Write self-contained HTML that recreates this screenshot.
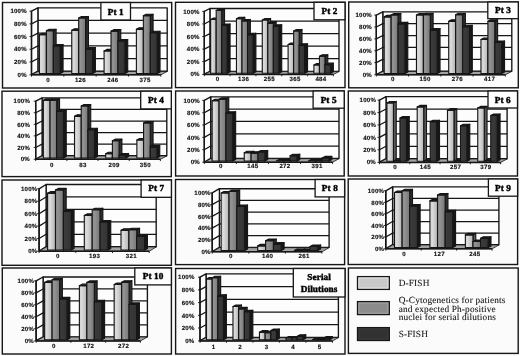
<!DOCTYPE html>
<html><head><meta charset="utf-8"><style>
html,body{margin:0;padding:0;background:#fbfbfb;}
svg{display:block;text-rendering:geometricPrecision;}
.vl{font-family:"Liberation Sans",sans-serif;font-size:6.1px;font-weight:bold;letter-spacing:0.2px;text-anchor:end;fill:#111;stroke:#111;stroke-width:0.15px;}
.cl{font-family:"Liberation Sans",sans-serif;font-size:6.1px;font-weight:bold;letter-spacing:0.35px;text-anchor:middle;fill:#111;stroke:#111;stroke-width:0.15px;}
.tt{font-family:"Liberation Serif",serif;font-size:9.2px;letter-spacing:0.1px;font-weight:bold;text-anchor:middle;fill:#000;stroke:#000;stroke-width:0.45px;}
.lg{font-family:"Liberation Serif",serif;font-size:9.3px;letter-spacing:0.15px;fill:#111;stroke:#111;stroke-width:0.08px;}
</style></head>
<body><svg width="520" height="356" viewBox="0 0 520 356">
<defs>
<linearGradient id="gL" x1="0" y1="0" x2="1" y2="0"><stop offset="0" stop-color="#cfcfcf"/><stop offset="0.3" stop-color="#dcdcdc"/><stop offset="1" stop-color="#b4b4b4"/></linearGradient>
<linearGradient id="gM" x1="0" y1="0" x2="1" y2="0"><stop offset="0" stop-color="#8a8a8a"/><stop offset="0.3" stop-color="#939393"/><stop offset="1" stop-color="#777777"/></linearGradient>
<linearGradient id="gD" x1="0" y1="0" x2="1" y2="0"><stop offset="0" stop-color="#3c3c3c"/><stop offset="1" stop-color="#333333"/></linearGradient>
<filter id="bl" x="0" y="0" width="100%" height="100%"><feGaussianBlur stdDeviation="0.45"/></filter>
</defs>
<g filter="url(#bl)">
<rect width="520" height="356" fill="#fbfbfb"/>
<rect x="2.5" y="2.5" width="169.2" height="85.5" fill="#fbfbfb" stroke="#141414" stroke-width="1.4"/>
<polygon points="37.9,7.8 167.2,7.8 167.2,71.2 37.9,71.2" fill="#fdfdfd" stroke="#141414" stroke-width="1.35" stroke-linejoin="round"/>
<polygon points="31.5,11.2 37.9,7.8 37.9,71.2 31.5,74.6" fill="#fdfdfd" stroke="#141414" stroke-width="1.35" stroke-linejoin="round"/>
<line x1="31.5" y1="61.92" x2="37.9" y2="58.52" stroke="#141414" stroke-width="1.25"/>
<line x1="37.9" y1="58.52" x2="167.2" y2="58.52" stroke="#141414" stroke-width="1.25"/>
<line x1="31.5" y1="49.24" x2="37.9" y2="45.84" stroke="#141414" stroke-width="1.25"/>
<line x1="37.9" y1="45.84" x2="167.2" y2="45.84" stroke="#141414" stroke-width="1.25"/>
<line x1="31.5" y1="36.56" x2="37.9" y2="33.16" stroke="#141414" stroke-width="1.25"/>
<line x1="37.9" y1="33.16" x2="167.2" y2="33.16" stroke="#141414" stroke-width="1.25"/>
<line x1="31.5" y1="23.88" x2="37.9" y2="20.48" stroke="#141414" stroke-width="1.25"/>
<line x1="37.9" y1="20.48" x2="167.2" y2="20.48" stroke="#141414" stroke-width="1.25"/>
<polygon points="31.5,74.85 160.8,74.85 167.2,71.45 37.9,71.45" fill="#a2a2a2" stroke="#141414" stroke-width="0.8" stroke-linejoin="round"/>
<line x1="31.5" y1="74.85" x2="160.8" y2="74.85" stroke="#141414" stroke-width="1.5"/>
<line x1="29.5" y1="74.85" x2="31.5" y2="74.85" stroke="#141414" stroke-width="0.9"/>
<text x="26.8" y="76.8" class="vl">0%</text>
<line x1="29.5" y1="61.92" x2="31.5" y2="61.92" stroke="#141414" stroke-width="0.9"/>
<text x="26.8" y="64.12" class="vl">20%</text>
<line x1="29.5" y1="49.24" x2="31.5" y2="49.24" stroke="#141414" stroke-width="0.9"/>
<text x="26.8" y="51.44" class="vl">40%</text>
<line x1="29.5" y1="36.56" x2="31.5" y2="36.56" stroke="#141414" stroke-width="0.9"/>
<text x="26.8" y="38.76" class="vl">60%</text>
<line x1="29.5" y1="23.88" x2="31.5" y2="23.88" stroke="#141414" stroke-width="0.9"/>
<text x="26.8" y="26.08" class="vl">80%</text>
<line x1="29.5" y1="11.2" x2="31.5" y2="11.2" stroke="#141414" stroke-width="0.9"/>
<text x="26.8" y="13.4" class="vl">100%</text>
<line x1="31.5" y1="11.2" x2="31.5" y2="74.85" stroke="#141414" stroke-width="1.35"/>
<line x1="31.5" y1="74.85" x2="31.5" y2="76.65" stroke="#141414" stroke-width="0.9"/>
<line x1="63.83" y1="74.85" x2="63.83" y2="76.65" stroke="#141414" stroke-width="0.9"/>
<line x1="96.15" y1="74.85" x2="96.15" y2="76.65" stroke="#141414" stroke-width="0.9"/>
<line x1="128.48" y1="74.85" x2="128.48" y2="76.65" stroke="#141414" stroke-width="0.9"/>
<line x1="160.8" y1="74.85" x2="160.8" y2="76.65" stroke="#141414" stroke-width="0.9"/>
<text x="48.16" y="81.6" class="cl">0</text>
<text x="80.49" y="81.6" class="cl">126</text>
<text x="112.81" y="81.6" class="cl">246</text>
<text x="145.14" y="81.6" class="cl">375</text>
<polygon points="46.37,34.8 49.17,33.3 49.17,72.1 46.37,73.6" fill="#5a5a5a" stroke="#141414" stroke-width="1.1" stroke-linejoin="round"/>
<polygon points="39.42,34.8 46.37,34.8 46.37,73.6 39.42,73.6" fill="url(#gL)" stroke="#141414" stroke-width="1.1" stroke-linejoin="round"/>
<polygon points="39.42,34.8 46.37,34.8 49.17,33.3 42.22,33.3" fill="#222222" stroke="#141414" stroke-width="1.1" stroke-linejoin="round"/>
<polygon points="53.32,30.81 56.12,29.31 56.12,72.1 53.32,73.6" fill="#2e2e2e" stroke="#141414" stroke-width="1.1" stroke-linejoin="round"/>
<polygon points="46.37,30.81 53.32,30.81 53.32,73.6 46.37,73.6" fill="url(#gM)" stroke="#141414" stroke-width="1.1" stroke-linejoin="round"/>
<polygon points="46.37,30.81 53.32,30.81 56.12,29.31 49.17,29.31" fill="#1a1a1a" stroke="#141414" stroke-width="1.1" stroke-linejoin="round"/>
<polygon points="60.27,46.02 63.07,44.52 63.07,72.1 60.27,73.6" fill="#141414" stroke="#141414" stroke-width="1.1" stroke-linejoin="round"/>
<polygon points="53.32,46.02 60.27,46.02 60.27,73.6 53.32,73.6" fill="url(#gD)" stroke="#141414" stroke-width="1.1" stroke-linejoin="round"/>
<polygon points="53.32,46.02 60.27,46.02 63.07,44.52 56.12,44.52" fill="#111111" stroke="#141414" stroke-width="1.1" stroke-linejoin="round"/>
<polygon points="78.69,30.3 81.49,28.8 81.49,72.1 78.69,73.6" fill="#5a5a5a" stroke="#141414" stroke-width="1.1" stroke-linejoin="round"/>
<polygon points="71.74,30.3 78.69,30.3 78.69,73.6 71.74,73.6" fill="url(#gL)" stroke="#141414" stroke-width="1.1" stroke-linejoin="round"/>
<polygon points="71.74,30.3 78.69,30.3 81.49,28.8 74.54,28.8" fill="#222222" stroke="#141414" stroke-width="1.1" stroke-linejoin="round"/>
<polygon points="85.64,17.93 88.44,16.43 88.44,72.1 85.64,73.6" fill="#2e2e2e" stroke="#141414" stroke-width="1.1" stroke-linejoin="round"/>
<polygon points="78.69,17.93 85.64,17.93 85.64,73.6 78.69,73.6" fill="url(#gM)" stroke="#141414" stroke-width="1.1" stroke-linejoin="round"/>
<polygon points="78.69,17.93 85.64,17.93 88.44,16.43 81.49,16.43" fill="#1a1a1a" stroke="#141414" stroke-width="1.1" stroke-linejoin="round"/>
<polygon points="92.59,49.13 95.39,47.63 95.39,72.1 92.59,73.6" fill="#141414" stroke="#141414" stroke-width="1.1" stroke-linejoin="round"/>
<polygon points="85.64,49.13 92.59,49.13 92.59,73.6 85.64,73.6" fill="url(#gD)" stroke="#141414" stroke-width="1.1" stroke-linejoin="round"/>
<polygon points="85.64,49.13 92.59,49.13 95.39,47.63 88.44,47.63" fill="#111111" stroke="#141414" stroke-width="1.1" stroke-linejoin="round"/>
<polygon points="111.02,50.9 113.82,49.4 113.82,72.1 111.02,73.6" fill="#5a5a5a" stroke="#141414" stroke-width="1.1" stroke-linejoin="round"/>
<polygon points="104.07,50.9 111.02,50.9 111.02,73.6 104.07,73.6" fill="url(#gL)" stroke="#141414" stroke-width="1.1" stroke-linejoin="round"/>
<polygon points="104.07,50.9 111.02,50.9 113.82,49.4 106.87,49.4" fill="#222222" stroke="#141414" stroke-width="1.1" stroke-linejoin="round"/>
<polygon points="117.97,31.12 120.77,29.62 120.77,72.1 117.97,73.6" fill="#2e2e2e" stroke="#141414" stroke-width="1.1" stroke-linejoin="round"/>
<polygon points="111.02,31.12 117.97,31.12 117.97,73.6 111.02,73.6" fill="url(#gM)" stroke="#141414" stroke-width="1.1" stroke-linejoin="round"/>
<polygon points="111.02,31.12 117.97,31.12 120.77,29.62 113.82,29.62" fill="#1a1a1a" stroke="#141414" stroke-width="1.1" stroke-linejoin="round"/>
<polygon points="124.92,41.01 127.72,39.51 127.72,72.1 124.92,73.6" fill="#141414" stroke="#141414" stroke-width="1.1" stroke-linejoin="round"/>
<polygon points="117.97,41.01 124.92,41.01 124.92,73.6 117.97,73.6" fill="url(#gD)" stroke="#141414" stroke-width="1.1" stroke-linejoin="round"/>
<polygon points="117.97,41.01 124.92,41.01 127.72,39.51 120.77,39.51" fill="#111111" stroke="#141414" stroke-width="1.1" stroke-linejoin="round"/>
<polygon points="143.34,29.35 146.14,27.85 146.14,72.1 143.34,73.6" fill="#5a5a5a" stroke="#141414" stroke-width="1.1" stroke-linejoin="round"/>
<polygon points="136.39,29.35 143.34,29.35 143.34,73.6 136.39,73.6" fill="url(#gL)" stroke="#141414" stroke-width="1.1" stroke-linejoin="round"/>
<polygon points="136.39,29.35 143.34,29.35 146.14,27.85 139.19,27.85" fill="#222222" stroke="#141414" stroke-width="1.1" stroke-linejoin="round"/>
<polygon points="150.29,15.72 153.09,14.22 153.09,72.1 150.29,73.6" fill="#2e2e2e" stroke="#141414" stroke-width="1.1" stroke-linejoin="round"/>
<polygon points="143.34,15.72 150.29,15.72 150.29,73.6 143.34,73.6" fill="url(#gM)" stroke="#141414" stroke-width="1.1" stroke-linejoin="round"/>
<polygon points="143.34,15.72 150.29,15.72 153.09,14.22 146.14,14.22" fill="#1a1a1a" stroke="#141414" stroke-width="1.1" stroke-linejoin="round"/>
<polygon points="157.24,32.71 160.04,31.21 160.04,72.1 157.24,73.6" fill="#141414" stroke="#141414" stroke-width="1.1" stroke-linejoin="round"/>
<polygon points="150.29,32.71 157.24,32.71 157.24,73.6 150.29,73.6" fill="url(#gD)" stroke="#141414" stroke-width="1.1" stroke-linejoin="round"/>
<polygon points="150.29,32.71 157.24,32.71 160.04,31.21 153.09,31.21" fill="#111111" stroke="#141414" stroke-width="1.1" stroke-linejoin="round"/>
<rect x="100.9" y="2.5" width="29.6" height="17.5" fill="#fdfdfd" stroke="#141414" stroke-width="1.3"/>
<text x="115.7" y="14.65" class="tt">Pt 1</text>
<rect x="175.5" y="2.3" width="169.5" height="85.3" fill="#fbfbfb" stroke="#141414" stroke-width="1.4"/>
<polygon points="209.9,8.5 339,8.5 339,71.3 209.9,71.3" fill="#fdfdfd" stroke="#141414" stroke-width="1.35" stroke-linejoin="round"/>
<polygon points="204.3,11.4 209.9,8.5 209.9,71.3 204.3,74.2" fill="#fdfdfd" stroke="#141414" stroke-width="1.35" stroke-linejoin="round"/>
<line x1="204.3" y1="61.64" x2="209.9" y2="58.74" stroke="#141414" stroke-width="1.25"/>
<line x1="209.9" y1="58.74" x2="339" y2="58.74" stroke="#141414" stroke-width="1.25"/>
<line x1="204.3" y1="49.08" x2="209.9" y2="46.18" stroke="#141414" stroke-width="1.25"/>
<line x1="209.9" y1="46.18" x2="339" y2="46.18" stroke="#141414" stroke-width="1.25"/>
<line x1="204.3" y1="36.52" x2="209.9" y2="33.62" stroke="#141414" stroke-width="1.25"/>
<line x1="209.9" y1="33.62" x2="339" y2="33.62" stroke="#141414" stroke-width="1.25"/>
<line x1="204.3" y1="23.96" x2="209.9" y2="21.06" stroke="#141414" stroke-width="1.25"/>
<line x1="209.9" y1="21.06" x2="339" y2="21.06" stroke="#141414" stroke-width="1.25"/>
<polygon points="204.3,74.45 333.4,74.45 339,71.55 209.9,71.55" fill="#a2a2a2" stroke="#141414" stroke-width="0.8" stroke-linejoin="round"/>
<line x1="204.3" y1="74.45" x2="333.4" y2="74.45" stroke="#141414" stroke-width="1.5"/>
<line x1="202.3" y1="74.45" x2="204.3" y2="74.45" stroke="#141414" stroke-width="0.9"/>
<text x="199.6" y="76.4" class="vl">0%</text>
<line x1="202.3" y1="61.64" x2="204.3" y2="61.64" stroke="#141414" stroke-width="0.9"/>
<text x="199.6" y="63.84" class="vl">20%</text>
<line x1="202.3" y1="49.08" x2="204.3" y2="49.08" stroke="#141414" stroke-width="0.9"/>
<text x="199.6" y="51.28" class="vl">40%</text>
<line x1="202.3" y1="36.52" x2="204.3" y2="36.52" stroke="#141414" stroke-width="0.9"/>
<text x="199.6" y="38.72" class="vl">60%</text>
<line x1="202.3" y1="23.96" x2="204.3" y2="23.96" stroke="#141414" stroke-width="0.9"/>
<text x="199.6" y="26.16" class="vl">80%</text>
<line x1="202.3" y1="11.4" x2="204.3" y2="11.4" stroke="#141414" stroke-width="0.9"/>
<text x="199.6" y="13.6" class="vl">100%</text>
<line x1="204.3" y1="11.4" x2="204.3" y2="74.45" stroke="#141414" stroke-width="1.35"/>
<line x1="204.3" y1="74.45" x2="204.3" y2="76.25" stroke="#141414" stroke-width="0.9"/>
<line x1="230.12" y1="74.45" x2="230.12" y2="76.25" stroke="#141414" stroke-width="0.9"/>
<line x1="255.94" y1="74.45" x2="255.94" y2="76.25" stroke="#141414" stroke-width="0.9"/>
<line x1="281.76" y1="74.45" x2="281.76" y2="76.25" stroke="#141414" stroke-width="0.9"/>
<line x1="307.58" y1="74.45" x2="307.58" y2="76.25" stroke="#141414" stroke-width="0.9"/>
<line x1="333.4" y1="74.45" x2="333.4" y2="76.25" stroke="#141414" stroke-width="0.9"/>
<text x="217.71" y="81.2" class="cl">0</text>
<text x="243.53" y="81.2" class="cl">136</text>
<text x="269.35" y="81.2" class="cl">255</text>
<text x="295.17" y="81.2" class="cl">365</text>
<text x="320.99" y="81.2" class="cl">484</text>
<polygon points="216.18,19.57 218.98,18.07 218.98,71.7 216.18,73.2" fill="#5a5a5a" stroke="#141414" stroke-width="1.1" stroke-linejoin="round"/>
<polygon points="210.63,19.57 216.18,19.57 216.18,73.2 210.63,73.2" fill="url(#gL)" stroke="#141414" stroke-width="1.1" stroke-linejoin="round"/>
<polygon points="210.63,19.57 216.18,19.57 218.98,18.07 213.43,18.07" fill="#222222" stroke="#141414" stroke-width="1.1" stroke-linejoin="round"/>
<polygon points="221.73,10.53 224.53,9.03 224.53,71.7 221.73,73.2" fill="#2e2e2e" stroke="#141414" stroke-width="1.1" stroke-linejoin="round"/>
<polygon points="216.18,10.53 221.73,10.53 221.73,73.2 216.18,73.2" fill="url(#gM)" stroke="#141414" stroke-width="1.1" stroke-linejoin="round"/>
<polygon points="216.18,10.53 221.73,10.53 224.53,9.03 218.98,9.03" fill="#1a1a1a" stroke="#141414" stroke-width="1.1" stroke-linejoin="round"/>
<polygon points="227.28,25.53 230.08,24.03 230.08,71.7 227.28,73.2" fill="#141414" stroke="#141414" stroke-width="1.1" stroke-linejoin="round"/>
<polygon points="221.73,25.53 227.28,25.53 227.28,73.2 221.73,73.2" fill="url(#gD)" stroke="#141414" stroke-width="1.1" stroke-linejoin="round"/>
<polygon points="221.73,25.53 227.28,25.53 230.08,24.03 224.53,24.03" fill="#111111" stroke="#141414" stroke-width="1.1" stroke-linejoin="round"/>
<polygon points="242,18.75 244.8,17.25 244.8,71.7 242,73.2" fill="#5a5a5a" stroke="#141414" stroke-width="1.1" stroke-linejoin="round"/>
<polygon points="236.45,18.75 242,18.75 242,73.2 236.45,73.2" fill="url(#gL)" stroke="#141414" stroke-width="1.1" stroke-linejoin="round"/>
<polygon points="236.45,18.75 242,18.75 244.8,17.25 239.25,17.25" fill="#222222" stroke="#141414" stroke-width="1.1" stroke-linejoin="round"/>
<polygon points="247.55,20.95 250.35,19.45 250.35,71.7 247.55,73.2" fill="#2e2e2e" stroke="#141414" stroke-width="1.1" stroke-linejoin="round"/>
<polygon points="242,20.95 247.55,20.95 247.55,73.2 242,73.2" fill="url(#gM)" stroke="#141414" stroke-width="1.1" stroke-linejoin="round"/>
<polygon points="242,20.95 247.55,20.95 250.35,19.45 244.8,19.45" fill="#1a1a1a" stroke="#141414" stroke-width="1.1" stroke-linejoin="round"/>
<polygon points="253.1,34.7 255.9,33.2 255.9,71.7 253.1,73.2" fill="#141414" stroke="#141414" stroke-width="1.1" stroke-linejoin="round"/>
<polygon points="247.55,34.7 253.1,34.7 253.1,73.2 247.55,73.2" fill="url(#gD)" stroke="#141414" stroke-width="1.1" stroke-linejoin="round"/>
<polygon points="247.55,34.7 253.1,34.7 255.9,33.2 250.35,33.2" fill="#111111" stroke="#141414" stroke-width="1.1" stroke-linejoin="round"/>
<polygon points="267.82,20.07 270.62,18.57 270.62,71.7 267.82,73.2" fill="#5a5a5a" stroke="#141414" stroke-width="1.1" stroke-linejoin="round"/>
<polygon points="262.27,20.07 267.82,20.07 267.82,73.2 262.27,73.2" fill="url(#gL)" stroke="#141414" stroke-width="1.1" stroke-linejoin="round"/>
<polygon points="262.27,20.07 267.82,20.07 270.62,18.57 265.07,18.57" fill="#222222" stroke="#141414" stroke-width="1.1" stroke-linejoin="round"/>
<polygon points="273.37,23.15 276.17,21.65 276.17,71.7 273.37,73.2" fill="#2e2e2e" stroke="#141414" stroke-width="1.1" stroke-linejoin="round"/>
<polygon points="267.82,23.15 273.37,23.15 273.37,73.2 267.82,73.2" fill="url(#gM)" stroke="#141414" stroke-width="1.1" stroke-linejoin="round"/>
<polygon points="267.82,23.15 273.37,23.15 276.17,21.65 270.62,21.65" fill="#1a1a1a" stroke="#141414" stroke-width="1.1" stroke-linejoin="round"/>
<polygon points="278.92,26.35 281.72,24.85 281.72,71.7 278.92,73.2" fill="#141414" stroke="#141414" stroke-width="1.1" stroke-linejoin="round"/>
<polygon points="273.37,26.35 278.92,26.35 278.92,73.2 273.37,73.2" fill="url(#gD)" stroke="#141414" stroke-width="1.1" stroke-linejoin="round"/>
<polygon points="273.37,26.35 278.92,26.35 281.72,24.85 276.17,24.85" fill="#111111" stroke="#141414" stroke-width="1.1" stroke-linejoin="round"/>
<polygon points="293.64,44.44 296.44,42.94 296.44,71.7 293.64,73.2" fill="#5a5a5a" stroke="#141414" stroke-width="1.1" stroke-linejoin="round"/>
<polygon points="288.09,44.44 293.64,44.44 293.64,73.2 288.09,73.2" fill="url(#gL)" stroke="#141414" stroke-width="1.1" stroke-linejoin="round"/>
<polygon points="288.09,44.44 293.64,44.44 296.44,42.94 290.89,42.94" fill="#222222" stroke="#141414" stroke-width="1.1" stroke-linejoin="round"/>
<polygon points="299.19,30.94 301.99,29.44 301.99,71.7 299.19,73.2" fill="#2e2e2e" stroke="#141414" stroke-width="1.1" stroke-linejoin="round"/>
<polygon points="293.64,30.94 299.19,30.94 299.19,73.2 293.64,73.2" fill="url(#gM)" stroke="#141414" stroke-width="1.1" stroke-linejoin="round"/>
<polygon points="293.64,30.94 299.19,30.94 301.99,29.44 296.44,29.44" fill="#1a1a1a" stroke="#141414" stroke-width="1.1" stroke-linejoin="round"/>
<polygon points="304.74,45.32 307.54,43.82 307.54,71.7 304.74,73.2" fill="#141414" stroke="#141414" stroke-width="1.1" stroke-linejoin="round"/>
<polygon points="299.19,45.32 304.74,45.32 304.74,73.2 299.19,73.2" fill="url(#gD)" stroke="#141414" stroke-width="1.1" stroke-linejoin="round"/>
<polygon points="299.19,45.32 304.74,45.32 307.54,43.82 301.99,43.82" fill="#111111" stroke="#141414" stroke-width="1.1" stroke-linejoin="round"/>
<polygon points="319.46,65.04 322.26,63.54 322.26,71.7 319.46,73.2" fill="#5a5a5a" stroke="#141414" stroke-width="1.1" stroke-linejoin="round"/>
<polygon points="313.91,65.04 319.46,65.04 319.46,73.2 313.91,73.2" fill="url(#gL)" stroke="#141414" stroke-width="1.1" stroke-linejoin="round"/>
<polygon points="313.91,65.04 319.46,65.04 322.26,63.54 316.71,63.54" fill="#222222" stroke="#141414" stroke-width="1.1" stroke-linejoin="round"/>
<polygon points="325.01,56.31 327.81,54.81 327.81,71.7 325.01,73.2" fill="#2e2e2e" stroke="#141414" stroke-width="1.1" stroke-linejoin="round"/>
<polygon points="319.46,56.31 325.01,56.31 325.01,73.2 319.46,73.2" fill="url(#gM)" stroke="#141414" stroke-width="1.1" stroke-linejoin="round"/>
<polygon points="319.46,56.31 325.01,56.31 327.81,54.81 322.26,54.81" fill="#1a1a1a" stroke="#141414" stroke-width="1.1" stroke-linejoin="round"/>
<polygon points="330.56,64.66 333.36,63.16 333.36,71.7 330.56,73.2" fill="#141414" stroke="#141414" stroke-width="1.1" stroke-linejoin="round"/>
<polygon points="325.01,64.66 330.56,64.66 330.56,73.2 325.01,73.2" fill="url(#gD)" stroke="#141414" stroke-width="1.1" stroke-linejoin="round"/>
<polygon points="325.01,64.66 330.56,64.66 333.36,63.16 327.81,63.16" fill="#111111" stroke="#141414" stroke-width="1.1" stroke-linejoin="round"/>
<rect x="314" y="2.3" width="31" height="17.5" fill="#fdfdfd" stroke="#141414" stroke-width="1.3"/>
<text x="329.5" y="13.65" class="tt">Pt 2</text>
<rect x="348.7" y="2" width="169.6" height="85.8" fill="#fbfbfb" stroke="#141414" stroke-width="1.4"/>
<polygon points="382.8,11.8 511.8,11.8 511.8,71.2 382.8,71.2" fill="#fdfdfd" stroke="#141414" stroke-width="1.35" stroke-linejoin="round"/>
<polygon points="376.3,15.1 382.8,11.8 382.8,71.2 376.3,74.5" fill="#fdfdfd" stroke="#141414" stroke-width="1.35" stroke-linejoin="round"/>
<line x1="376.3" y1="62.62" x2="382.8" y2="59.32" stroke="#141414" stroke-width="1.25"/>
<line x1="382.8" y1="59.32" x2="511.8" y2="59.32" stroke="#141414" stroke-width="1.25"/>
<line x1="376.3" y1="50.74" x2="382.8" y2="47.44" stroke="#141414" stroke-width="1.25"/>
<line x1="382.8" y1="47.44" x2="511.8" y2="47.44" stroke="#141414" stroke-width="1.25"/>
<line x1="376.3" y1="38.86" x2="382.8" y2="35.56" stroke="#141414" stroke-width="1.25"/>
<line x1="382.8" y1="35.56" x2="511.8" y2="35.56" stroke="#141414" stroke-width="1.25"/>
<line x1="376.3" y1="26.98" x2="382.8" y2="23.68" stroke="#141414" stroke-width="1.25"/>
<line x1="382.8" y1="23.68" x2="511.8" y2="23.68" stroke="#141414" stroke-width="1.25"/>
<polygon points="376.3,74.75 505.3,74.75 511.8,71.45 382.8,71.45" fill="#a2a2a2" stroke="#141414" stroke-width="0.8" stroke-linejoin="round"/>
<line x1="376.3" y1="74.75" x2="505.3" y2="74.75" stroke="#141414" stroke-width="1.5"/>
<line x1="374.3" y1="74.75" x2="376.3" y2="74.75" stroke="#141414" stroke-width="0.9"/>
<text x="371.9" y="76.7" class="vl">0%</text>
<line x1="374.3" y1="62.62" x2="376.3" y2="62.62" stroke="#141414" stroke-width="0.9"/>
<text x="371.9" y="64.82" class="vl">20%</text>
<line x1="374.3" y1="50.74" x2="376.3" y2="50.74" stroke="#141414" stroke-width="0.9"/>
<text x="371.9" y="52.94" class="vl">40%</text>
<line x1="374.3" y1="38.86" x2="376.3" y2="38.86" stroke="#141414" stroke-width="0.9"/>
<text x="371.9" y="41.06" class="vl">60%</text>
<line x1="374.3" y1="26.98" x2="376.3" y2="26.98" stroke="#141414" stroke-width="0.9"/>
<text x="371.9" y="29.18" class="vl">80%</text>
<line x1="374.3" y1="15.1" x2="376.3" y2="15.1" stroke="#141414" stroke-width="0.9"/>
<text x="371.9" y="17.3" class="vl">100%</text>
<line x1="376.3" y1="15.1" x2="376.3" y2="74.75" stroke="#141414" stroke-width="1.35"/>
<line x1="376.3" y1="74.75" x2="376.3" y2="76.55" stroke="#141414" stroke-width="0.9"/>
<line x1="408.55" y1="74.75" x2="408.55" y2="76.55" stroke="#141414" stroke-width="0.9"/>
<line x1="440.8" y1="74.75" x2="440.8" y2="76.55" stroke="#141414" stroke-width="0.9"/>
<line x1="473.05" y1="74.75" x2="473.05" y2="76.55" stroke="#141414" stroke-width="0.9"/>
<line x1="505.3" y1="74.75" x2="505.3" y2="76.55" stroke="#141414" stroke-width="0.9"/>
<text x="392.93" y="81" class="cl">0</text>
<text x="425.18" y="81" class="cl">150</text>
<text x="457.43" y="81" class="cl">276</text>
<text x="489.68" y="81" class="cl">417</text>
<polygon points="391.13,16.83 393.94,15.33 393.94,72 391.13,73.5" fill="#5a5a5a" stroke="#141414" stroke-width="1.1" stroke-linejoin="round"/>
<polygon points="384.2,16.83 391.13,16.83 391.13,73.5 384.2,73.5" fill="url(#gL)" stroke="#141414" stroke-width="1.1" stroke-linejoin="round"/>
<polygon points="384.2,16.83 391.13,16.83 393.94,15.33 387,15.33" fill="#222222" stroke="#141414" stroke-width="1.1" stroke-linejoin="round"/>
<polygon points="398.07,14.93 400.87,13.43 400.87,72 398.07,73.5" fill="#2e2e2e" stroke="#141414" stroke-width="1.1" stroke-linejoin="round"/>
<polygon points="391.13,14.93 398.07,14.93 398.07,73.5 391.13,73.5" fill="url(#gM)" stroke="#141414" stroke-width="1.1" stroke-linejoin="round"/>
<polygon points="391.13,14.93 398.07,14.93 400.87,13.43 393.94,13.43" fill="#1a1a1a" stroke="#141414" stroke-width="1.1" stroke-linejoin="round"/>
<polygon points="405,23.84 407.8,22.34 407.8,72 405,73.5" fill="#141414" stroke="#141414" stroke-width="1.1" stroke-linejoin="round"/>
<polygon points="398.07,23.84 405,23.84 405,73.5 398.07,73.5" fill="url(#gD)" stroke="#141414" stroke-width="1.1" stroke-linejoin="round"/>
<polygon points="398.07,23.84 405,23.84 407.8,22.34 400.87,22.34" fill="#111111" stroke="#141414" stroke-width="1.1" stroke-linejoin="round"/>
<polygon points="423.38,14.93 426.19,13.43 426.19,72 423.38,73.5" fill="#5a5a5a" stroke="#141414" stroke-width="1.1" stroke-linejoin="round"/>
<polygon points="416.45,14.93 423.38,14.93 423.38,73.5 416.45,73.5" fill="url(#gL)" stroke="#141414" stroke-width="1.1" stroke-linejoin="round"/>
<polygon points="416.45,14.93 423.38,14.93 426.19,13.43 419.25,13.43" fill="#222222" stroke="#141414" stroke-width="1.1" stroke-linejoin="round"/>
<polygon points="430.32,14.75 433.12,13.25 433.12,72 430.32,73.5" fill="#2e2e2e" stroke="#141414" stroke-width="1.1" stroke-linejoin="round"/>
<polygon points="423.38,14.75 430.32,14.75 430.32,73.5 423.38,73.5" fill="url(#gM)" stroke="#141414" stroke-width="1.1" stroke-linejoin="round"/>
<polygon points="423.38,14.75 430.32,14.75 433.12,13.25 426.19,13.25" fill="#1a1a1a" stroke="#141414" stroke-width="1.1" stroke-linejoin="round"/>
<polygon points="437.25,30.08 440.05,28.58 440.05,72 437.25,73.5" fill="#141414" stroke="#141414" stroke-width="1.1" stroke-linejoin="round"/>
<polygon points="430.32,30.08 437.25,30.08 437.25,73.5 430.32,73.5" fill="url(#gD)" stroke="#141414" stroke-width="1.1" stroke-linejoin="round"/>
<polygon points="430.32,30.08 437.25,30.08 440.05,28.58 433.12,28.58" fill="#111111" stroke="#141414" stroke-width="1.1" stroke-linejoin="round"/>
<polygon points="455.63,21.35 458.44,19.85 458.44,72 455.63,73.5" fill="#5a5a5a" stroke="#141414" stroke-width="1.1" stroke-linejoin="round"/>
<polygon points="448.7,21.35 455.63,21.35 455.63,73.5 448.7,73.5" fill="url(#gL)" stroke="#141414" stroke-width="1.1" stroke-linejoin="round"/>
<polygon points="448.7,21.35 455.63,21.35 458.44,19.85 451.5,19.85" fill="#222222" stroke="#141414" stroke-width="1.1" stroke-linejoin="round"/>
<polygon points="462.57,14.75 465.37,13.25 465.37,72 462.57,73.5" fill="#2e2e2e" stroke="#141414" stroke-width="1.1" stroke-linejoin="round"/>
<polygon points="455.63,14.75 462.57,14.75 462.57,73.5 455.63,73.5" fill="url(#gM)" stroke="#141414" stroke-width="1.1" stroke-linejoin="round"/>
<polygon points="455.63,14.75 462.57,14.75 465.37,13.25 458.44,13.25" fill="#1a1a1a" stroke="#141414" stroke-width="1.1" stroke-linejoin="round"/>
<polygon points="469.5,26.75 472.3,25.25 472.3,72 469.5,73.5" fill="#141414" stroke="#141414" stroke-width="1.1" stroke-linejoin="round"/>
<polygon points="462.57,26.75 469.5,26.75 469.5,73.5 462.57,73.5" fill="url(#gD)" stroke="#141414" stroke-width="1.1" stroke-linejoin="round"/>
<polygon points="462.57,26.75 469.5,26.75 472.3,25.25 465.37,25.25" fill="#111111" stroke="#141414" stroke-width="1.1" stroke-linejoin="round"/>
<polygon points="487.88,39.46 490.69,37.96 490.69,72 487.88,73.5" fill="#5a5a5a" stroke="#141414" stroke-width="1.1" stroke-linejoin="round"/>
<polygon points="480.95,39.46 487.88,39.46 487.88,73.5 480.95,73.5" fill="url(#gL)" stroke="#141414" stroke-width="1.1" stroke-linejoin="round"/>
<polygon points="480.95,39.46 487.88,39.46 490.69,37.96 483.75,37.96" fill="#222222" stroke="#141414" stroke-width="1.1" stroke-linejoin="round"/>
<polygon points="494.82,21.35 497.62,19.85 497.62,72 494.82,73.5" fill="#2e2e2e" stroke="#141414" stroke-width="1.1" stroke-linejoin="round"/>
<polygon points="487.88,21.35 494.82,21.35 494.82,73.5 487.88,73.5" fill="url(#gM)" stroke="#141414" stroke-width="1.1" stroke-linejoin="round"/>
<polygon points="487.88,21.35 494.82,21.35 497.62,19.85 490.69,19.85" fill="#1a1a1a" stroke="#141414" stroke-width="1.1" stroke-linejoin="round"/>
<polygon points="501.75,42.43 504.55,40.93 504.55,72 501.75,73.5" fill="#141414" stroke="#141414" stroke-width="1.1" stroke-linejoin="round"/>
<polygon points="494.82,42.43 501.75,42.43 501.75,73.5 494.82,73.5" fill="url(#gD)" stroke="#141414" stroke-width="1.1" stroke-linejoin="round"/>
<polygon points="494.82,42.43 501.75,42.43 504.55,40.93 497.62,40.93" fill="#111111" stroke="#141414" stroke-width="1.1" stroke-linejoin="round"/>
<rect x="487.8" y="2" width="30.5" height="16.7" fill="#fdfdfd" stroke="#141414" stroke-width="1.3"/>
<text x="503.05" y="13.15" class="tt">Pt 3</text>
<rect x="2" y="91.2" width="169.3" height="85.4" fill="#fbfbfb" stroke="#141414" stroke-width="1.4"/>
<polygon points="42.1,97.9 166.8,97.9 166.8,155.7 42.1,155.7" fill="#fdfdfd" stroke="#141414" stroke-width="1.35" stroke-linejoin="round"/>
<polygon points="35.7,101.2 42.1,97.9 42.1,155.7 35.7,159" fill="#fdfdfd" stroke="#141414" stroke-width="1.35" stroke-linejoin="round"/>
<line x1="35.7" y1="147.44" x2="42.1" y2="144.14" stroke="#141414" stroke-width="1.25"/>
<line x1="42.1" y1="144.14" x2="166.8" y2="144.14" stroke="#141414" stroke-width="1.25"/>
<line x1="35.7" y1="135.88" x2="42.1" y2="132.58" stroke="#141414" stroke-width="1.25"/>
<line x1="42.1" y1="132.58" x2="166.8" y2="132.58" stroke="#141414" stroke-width="1.25"/>
<line x1="35.7" y1="124.32" x2="42.1" y2="121.02" stroke="#141414" stroke-width="1.25"/>
<line x1="42.1" y1="121.02" x2="166.8" y2="121.02" stroke="#141414" stroke-width="1.25"/>
<line x1="35.7" y1="112.76" x2="42.1" y2="109.46" stroke="#141414" stroke-width="1.25"/>
<line x1="42.1" y1="109.46" x2="166.8" y2="109.46" stroke="#141414" stroke-width="1.25"/>
<polygon points="35.7,159.25 160.4,159.25 166.8,155.95 42.1,155.95" fill="#a2a2a2" stroke="#141414" stroke-width="0.8" stroke-linejoin="round"/>
<line x1="35.7" y1="159.25" x2="160.4" y2="159.25" stroke="#141414" stroke-width="1.5"/>
<line x1="33.7" y1="159.25" x2="35.7" y2="159.25" stroke="#141414" stroke-width="0.9"/>
<text x="30" y="161.2" class="vl">0%</text>
<line x1="33.7" y1="147.44" x2="35.7" y2="147.44" stroke="#141414" stroke-width="0.9"/>
<text x="30" y="149.64" class="vl">20%</text>
<line x1="33.7" y1="135.88" x2="35.7" y2="135.88" stroke="#141414" stroke-width="0.9"/>
<text x="30" y="138.08" class="vl">40%</text>
<line x1="33.7" y1="124.32" x2="35.7" y2="124.32" stroke="#141414" stroke-width="0.9"/>
<text x="30" y="126.52" class="vl">60%</text>
<line x1="33.7" y1="112.76" x2="35.7" y2="112.76" stroke="#141414" stroke-width="0.9"/>
<text x="30" y="114.96" class="vl">80%</text>
<line x1="33.7" y1="101.2" x2="35.7" y2="101.2" stroke="#141414" stroke-width="0.9"/>
<text x="30" y="103.4" class="vl">100%</text>
<line x1="35.7" y1="101.2" x2="35.7" y2="159.25" stroke="#141414" stroke-width="1.35"/>
<line x1="35.7" y1="159.25" x2="35.7" y2="161.05" stroke="#141414" stroke-width="0.9"/>
<line x1="66.88" y1="159.25" x2="66.88" y2="161.05" stroke="#141414" stroke-width="0.9"/>
<line x1="98.05" y1="159.25" x2="98.05" y2="161.05" stroke="#141414" stroke-width="0.9"/>
<line x1="129.23" y1="159.25" x2="129.23" y2="161.05" stroke="#141414" stroke-width="0.9"/>
<line x1="160.4" y1="159.25" x2="160.4" y2="161.05" stroke="#141414" stroke-width="0.9"/>
<text x="51.79" y="167.2" class="cl">0</text>
<text x="82.96" y="167.2" class="cl">83</text>
<text x="114.14" y="167.2" class="cl">209</text>
<text x="145.31" y="167.2" class="cl">350</text>
<polygon points="50.04,100.26 52.84,98.76 52.84,156.5 50.04,158" fill="#5a5a5a" stroke="#141414" stroke-width="1.1" stroke-linejoin="round"/>
<polygon points="43.34,100.26 50.04,100.26 50.04,158 43.34,158" fill="url(#gL)" stroke="#141414" stroke-width="1.1" stroke-linejoin="round"/>
<polygon points="43.34,100.26 50.04,100.26 52.84,98.76 46.14,98.76" fill="#222222" stroke="#141414" stroke-width="1.1" stroke-linejoin="round"/>
<polygon points="56.74,100.26 59.54,98.76 59.54,156.5 56.74,158" fill="#2e2e2e" stroke="#141414" stroke-width="1.1" stroke-linejoin="round"/>
<polygon points="50.04,100.26 56.74,100.26 56.74,158 50.04,158" fill="url(#gM)" stroke="#141414" stroke-width="1.1" stroke-linejoin="round"/>
<polygon points="50.04,100.26 56.74,100.26 59.54,98.76 52.84,98.76" fill="#1a1a1a" stroke="#141414" stroke-width="1.1" stroke-linejoin="round"/>
<polygon points="63.45,111.36 66.25,109.86 66.25,156.5 63.45,158" fill="#141414" stroke="#141414" stroke-width="1.1" stroke-linejoin="round"/>
<polygon points="56.74,111.36 63.45,111.36 63.45,158 56.74,158" fill="url(#gD)" stroke="#141414" stroke-width="1.1" stroke-linejoin="round"/>
<polygon points="56.74,111.36 63.45,111.36 66.25,109.86 59.54,109.86" fill="#111111" stroke="#141414" stroke-width="1.1" stroke-linejoin="round"/>
<polygon points="81.22,116.33 84.02,114.83 84.02,156.5 81.22,158" fill="#5a5a5a" stroke="#141414" stroke-width="1.1" stroke-linejoin="round"/>
<polygon points="74.51,116.33 81.22,116.33 81.22,158 74.51,158" fill="url(#gL)" stroke="#141414" stroke-width="1.1" stroke-linejoin="round"/>
<polygon points="74.51,116.33 81.22,116.33 84.02,114.83 77.31,114.83" fill="#222222" stroke="#141414" stroke-width="1.1" stroke-linejoin="round"/>
<polygon points="87.92,106.04 90.72,104.54 90.72,156.5 87.92,158" fill="#2e2e2e" stroke="#141414" stroke-width="1.1" stroke-linejoin="round"/>
<polygon points="81.22,106.04 87.92,106.04 87.92,158 81.22,158" fill="url(#gM)" stroke="#141414" stroke-width="1.1" stroke-linejoin="round"/>
<polygon points="81.22,106.04 87.92,106.04 90.72,104.54 84.02,104.54" fill="#1a1a1a" stroke="#141414" stroke-width="1.1" stroke-linejoin="round"/>
<polygon points="94.62,129.74 97.42,128.24 97.42,156.5 94.62,158" fill="#141414" stroke="#141414" stroke-width="1.1" stroke-linejoin="round"/>
<polygon points="87.92,129.74 94.62,129.74 94.62,158 87.92,158" fill="url(#gD)" stroke="#141414" stroke-width="1.1" stroke-linejoin="round"/>
<polygon points="87.92,129.74 94.62,129.74 97.42,128.24 90.72,128.24" fill="#111111" stroke="#141414" stroke-width="1.1" stroke-linejoin="round"/>
<polygon points="112.39,153.78 115.19,152.28 115.19,156.5 112.39,158" fill="#5a5a5a" stroke="#141414" stroke-width="1.1" stroke-linejoin="round"/>
<polygon points="105.69,153.78 112.39,153.78 112.39,158 105.69,158" fill="url(#gL)" stroke="#141414" stroke-width="1.1" stroke-linejoin="round"/>
<polygon points="105.69,153.78 112.39,153.78 115.19,152.28 108.49,152.28" fill="#222222" stroke="#141414" stroke-width="1.1" stroke-linejoin="round"/>
<polygon points="119.09,140.66 121.89,139.16 121.89,156.5 119.09,158" fill="#2e2e2e" stroke="#141414" stroke-width="1.1" stroke-linejoin="round"/>
<polygon points="112.39,140.66 119.09,140.66 119.09,158 112.39,158" fill="url(#gM)" stroke="#141414" stroke-width="1.1" stroke-linejoin="round"/>
<polygon points="112.39,140.66 119.09,140.66 121.89,139.16 115.19,139.16" fill="#1a1a1a" stroke="#141414" stroke-width="1.1" stroke-linejoin="round"/>
<polygon points="125.8,154.94 128.6,153.44 128.6,156.5 125.8,158" fill="#141414" stroke="#141414" stroke-width="1.1" stroke-linejoin="round"/>
<polygon points="119.09,154.94 125.8,154.94 125.8,158 119.09,158" fill="url(#gD)" stroke="#141414" stroke-width="1.1" stroke-linejoin="round"/>
<polygon points="119.09,154.94 125.8,154.94 128.6,153.44 121.89,153.44" fill="#111111" stroke="#141414" stroke-width="1.1" stroke-linejoin="round"/>
<polygon points="143.57,139.97 146.37,138.47 146.37,156.5 143.57,158" fill="#5a5a5a" stroke="#141414" stroke-width="1.1" stroke-linejoin="round"/>
<polygon points="136.86,139.97 143.57,139.97 143.57,158 136.86,158" fill="url(#gL)" stroke="#141414" stroke-width="1.1" stroke-linejoin="round"/>
<polygon points="136.86,139.97 143.57,139.97 146.37,138.47 139.66,138.47" fill="#222222" stroke="#141414" stroke-width="1.1" stroke-linejoin="round"/>
<polygon points="150.27,123.03 153.07,121.53 153.07,156.5 150.27,158" fill="#2e2e2e" stroke="#141414" stroke-width="1.1" stroke-linejoin="round"/>
<polygon points="143.57,123.03 150.27,123.03 150.27,158 143.57,158" fill="url(#gM)" stroke="#141414" stroke-width="1.1" stroke-linejoin="round"/>
<polygon points="143.57,123.03 150.27,123.03 153.07,121.53 146.37,121.53" fill="#1a1a1a" stroke="#141414" stroke-width="1.1" stroke-linejoin="round"/>
<polygon points="156.97,146.84 159.77,145.34 159.77,156.5 156.97,158" fill="#141414" stroke="#141414" stroke-width="1.1" stroke-linejoin="round"/>
<polygon points="150.27,146.84 156.97,146.84 156.97,158 150.27,158" fill="url(#gD)" stroke="#141414" stroke-width="1.1" stroke-linejoin="round"/>
<polygon points="150.27,146.84 156.97,146.84 159.77,145.34 153.07,145.34" fill="#111111" stroke="#141414" stroke-width="1.1" stroke-linejoin="round"/>
<rect x="140.7" y="91.2" width="30.6" height="17.7" fill="#fdfdfd" stroke="#141414" stroke-width="1.3"/>
<text x="156" y="102.9" class="tt">Pt 4</text>
<rect x="175.6" y="91" width="168.6" height="85" fill="#fbfbfb" stroke="#141414" stroke-width="1.4"/>
<polygon points="210.7,96.8 339,96.8 339,158.4 210.7,158.4" fill="#fdfdfd" stroke="#141414" stroke-width="1.35" stroke-linejoin="round"/>
<polygon points="204.3,100.4 210.7,96.8 210.7,158.4 204.3,162" fill="#fdfdfd" stroke="#141414" stroke-width="1.35" stroke-linejoin="round"/>
<line x1="204.3" y1="149.68" x2="210.7" y2="146.08" stroke="#141414" stroke-width="1.25"/>
<line x1="210.7" y1="146.08" x2="339" y2="146.08" stroke="#141414" stroke-width="1.25"/>
<line x1="204.3" y1="137.36" x2="210.7" y2="133.76" stroke="#141414" stroke-width="1.25"/>
<line x1="210.7" y1="133.76" x2="339" y2="133.76" stroke="#141414" stroke-width="1.25"/>
<line x1="204.3" y1="125.04" x2="210.7" y2="121.44" stroke="#141414" stroke-width="1.25"/>
<line x1="210.7" y1="121.44" x2="339" y2="121.44" stroke="#141414" stroke-width="1.25"/>
<line x1="204.3" y1="112.72" x2="210.7" y2="109.12" stroke="#141414" stroke-width="1.25"/>
<line x1="210.7" y1="109.12" x2="339" y2="109.12" stroke="#141414" stroke-width="1.25"/>
<polygon points="204.3,162.25 332.6,162.25 339,158.65 210.7,158.65" fill="#a2a2a2" stroke="#141414" stroke-width="0.8" stroke-linejoin="round"/>
<line x1="204.3" y1="162.25" x2="332.6" y2="162.25" stroke="#141414" stroke-width="1.5"/>
<line x1="202.3" y1="162.25" x2="204.3" y2="162.25" stroke="#141414" stroke-width="0.9"/>
<text x="199.9" y="164.2" class="vl">0%</text>
<line x1="202.3" y1="149.68" x2="204.3" y2="149.68" stroke="#141414" stroke-width="0.9"/>
<text x="199.9" y="151.88" class="vl">20%</text>
<line x1="202.3" y1="137.36" x2="204.3" y2="137.36" stroke="#141414" stroke-width="0.9"/>
<text x="199.9" y="139.56" class="vl">40%</text>
<line x1="202.3" y1="125.04" x2="204.3" y2="125.04" stroke="#141414" stroke-width="0.9"/>
<text x="199.9" y="127.24" class="vl">60%</text>
<line x1="202.3" y1="112.72" x2="204.3" y2="112.72" stroke="#141414" stroke-width="0.9"/>
<text x="199.9" y="114.92" class="vl">80%</text>
<line x1="202.3" y1="100.4" x2="204.3" y2="100.4" stroke="#141414" stroke-width="0.9"/>
<text x="199.9" y="102.6" class="vl">100%</text>
<line x1="204.3" y1="100.4" x2="204.3" y2="162.25" stroke="#141414" stroke-width="1.35"/>
<line x1="204.3" y1="162.25" x2="204.3" y2="164.05" stroke="#141414" stroke-width="0.9"/>
<line x1="236.38" y1="162.25" x2="236.38" y2="164.05" stroke="#141414" stroke-width="0.9"/>
<line x1="268.45" y1="162.25" x2="268.45" y2="164.05" stroke="#141414" stroke-width="0.9"/>
<line x1="300.53" y1="162.25" x2="300.53" y2="164.05" stroke="#141414" stroke-width="0.9"/>
<line x1="332.6" y1="162.25" x2="332.6" y2="164.05" stroke="#141414" stroke-width="0.9"/>
<text x="220.84" y="168.3" class="cl">0</text>
<text x="252.91" y="168.3" class="cl">145</text>
<text x="284.99" y="168.3" class="cl">272</text>
<text x="317.06" y="168.3" class="cl">391</text>
<polygon points="219.05,100.76 221.85,99.26 221.85,159.5 219.05,161" fill="#5a5a5a" stroke="#141414" stroke-width="1.1" stroke-linejoin="round"/>
<polygon points="212.16,100.76 219.05,100.76 219.05,161 212.16,161" fill="url(#gL)" stroke="#141414" stroke-width="1.1" stroke-linejoin="round"/>
<polygon points="212.16,100.76 219.05,100.76 221.85,99.26 214.96,99.26" fill="#222222" stroke="#141414" stroke-width="1.1" stroke-linejoin="round"/>
<polygon points="225.95,99.22 228.75,97.72 228.75,159.5 225.95,161" fill="#2e2e2e" stroke="#141414" stroke-width="1.1" stroke-linejoin="round"/>
<polygon points="219.05,99.22 225.95,99.22 225.95,161 219.05,161" fill="url(#gM)" stroke="#141414" stroke-width="1.1" stroke-linejoin="round"/>
<polygon points="219.05,99.22 225.95,99.22 228.75,97.72 221.85,97.72" fill="#1a1a1a" stroke="#141414" stroke-width="1.1" stroke-linejoin="round"/>
<polygon points="232.85,113.26 235.65,111.76 235.65,159.5 232.85,161" fill="#141414" stroke="#141414" stroke-width="1.1" stroke-linejoin="round"/>
<polygon points="225.95,113.26 232.85,113.26 232.85,161 225.95,161" fill="url(#gD)" stroke="#141414" stroke-width="1.1" stroke-linejoin="round"/>
<polygon points="225.95,113.26 232.85,113.26 235.65,111.76 228.75,111.76" fill="#111111" stroke="#141414" stroke-width="1.1" stroke-linejoin="round"/>
<polygon points="251.13,152.81 253.93,151.31 253.93,159.5 251.13,161" fill="#5a5a5a" stroke="#141414" stroke-width="1.1" stroke-linejoin="round"/>
<polygon points="244.23,152.81 251.13,152.81 251.13,161 244.23,161" fill="url(#gL)" stroke="#141414" stroke-width="1.1" stroke-linejoin="round"/>
<polygon points="244.23,152.81 251.13,152.81 253.93,151.31 247.03,151.31" fill="#222222" stroke="#141414" stroke-width="1.1" stroke-linejoin="round"/>
<polygon points="258.03,153.24 260.83,151.74 260.83,159.5 258.03,161" fill="#2e2e2e" stroke="#141414" stroke-width="1.1" stroke-linejoin="round"/>
<polygon points="251.13,153.24 258.03,153.24 258.03,161 251.13,161" fill="url(#gM)" stroke="#141414" stroke-width="1.1" stroke-linejoin="round"/>
<polygon points="251.13,153.24 258.03,153.24 260.83,151.74 253.93,151.74" fill="#1a1a1a" stroke="#141414" stroke-width="1.1" stroke-linejoin="round"/>
<polygon points="264.92,151.94 267.72,150.44 267.72,159.5 264.92,161" fill="#141414" stroke="#141414" stroke-width="1.1" stroke-linejoin="round"/>
<polygon points="258.03,151.94 264.92,151.94 264.92,161 258.03,161" fill="url(#gD)" stroke="#141414" stroke-width="1.1" stroke-linejoin="round"/>
<polygon points="258.03,151.94 264.92,151.94 267.72,150.44 260.83,150.44" fill="#111111" stroke="#141414" stroke-width="1.1" stroke-linejoin="round"/>
<polygon points="283.2,161 286,159.5 286,159.5 283.2,161" fill="#5a5a5a" stroke="#141414" stroke-width="1.1" stroke-linejoin="round"/>
<polygon points="276.31,161 283.2,161 286,159.5 279.11,159.5" fill="#222222" stroke="#141414" stroke-width="1.1" stroke-linejoin="round"/>
<polygon points="290.1,161 292.9,159.5 292.9,159.5 290.1,161" fill="#2e2e2e" stroke="#141414" stroke-width="1.1" stroke-linejoin="round"/>
<polygon points="283.2,161 290.1,161 292.9,159.5 286,159.5" fill="#1a1a1a" stroke="#141414" stroke-width="1.1" stroke-linejoin="round"/>
<polygon points="297,155.7 299.8,154.2 299.8,159.5 297,161" fill="#141414" stroke="#141414" stroke-width="1.1" stroke-linejoin="round"/>
<polygon points="290.1,155.7 297,155.7 297,161 290.1,161" fill="url(#gD)" stroke="#141414" stroke-width="1.1" stroke-linejoin="round"/>
<polygon points="290.1,155.7 297,155.7 299.8,154.2 292.9,154.2" fill="#111111" stroke="#141414" stroke-width="1.1" stroke-linejoin="round"/>
<polygon points="315.28,161 318.08,159.5 318.08,159.5 315.28,161" fill="#5a5a5a" stroke="#141414" stroke-width="1.1" stroke-linejoin="round"/>
<polygon points="308.38,161 315.28,161 318.08,159.5 311.18,159.5" fill="#222222" stroke="#141414" stroke-width="1.1" stroke-linejoin="round"/>
<polygon points="322.18,161 324.98,159.5 324.98,159.5 322.18,161" fill="#2e2e2e" stroke="#141414" stroke-width="1.1" stroke-linejoin="round"/>
<polygon points="315.28,161 322.18,161 324.98,159.5 318.08,159.5" fill="#1a1a1a" stroke="#141414" stroke-width="1.1" stroke-linejoin="round"/>
<polygon points="329.07,157.92 331.87,156.42 331.87,159.5 329.07,161" fill="#141414" stroke="#141414" stroke-width="1.1" stroke-linejoin="round"/>
<polygon points="322.18,157.92 329.07,157.92 329.07,161 322.18,161" fill="url(#gD)" stroke="#141414" stroke-width="1.1" stroke-linejoin="round"/>
<polygon points="322.18,157.92 329.07,157.92 331.87,156.42 324.98,156.42" fill="#111111" stroke="#141414" stroke-width="1.1" stroke-linejoin="round"/>
<rect x="313.1" y="91" width="31.1" height="17.2" fill="#fdfdfd" stroke="#141414" stroke-width="1.3"/>
<text x="328.65" y="102.9" class="tt">Pt 5</text>
<rect x="348.3" y="91" width="169.2" height="85" fill="#fbfbfb" stroke="#141414" stroke-width="1.4"/>
<polygon points="386,96.6 507.1,96.6 507.1,158.7 386,158.7" fill="#fdfdfd" stroke="#141414" stroke-width="1.35" stroke-linejoin="round"/>
<polygon points="379.5,100.1 386,96.6 386,158.7 379.5,162.2" fill="#fdfdfd" stroke="#141414" stroke-width="1.35" stroke-linejoin="round"/>
<line x1="379.5" y1="149.78" x2="386" y2="146.28" stroke="#141414" stroke-width="1.25"/>
<line x1="386" y1="146.28" x2="507.1" y2="146.28" stroke="#141414" stroke-width="1.25"/>
<line x1="379.5" y1="137.36" x2="386" y2="133.86" stroke="#141414" stroke-width="1.25"/>
<line x1="386" y1="133.86" x2="507.1" y2="133.86" stroke="#141414" stroke-width="1.25"/>
<line x1="379.5" y1="124.94" x2="386" y2="121.44" stroke="#141414" stroke-width="1.25"/>
<line x1="386" y1="121.44" x2="507.1" y2="121.44" stroke="#141414" stroke-width="1.25"/>
<line x1="379.5" y1="112.52" x2="386" y2="109.02" stroke="#141414" stroke-width="1.25"/>
<line x1="386" y1="109.02" x2="507.1" y2="109.02" stroke="#141414" stroke-width="1.25"/>
<polygon points="379.5,162.45 500.6,162.45 507.1,158.95 386,158.95" fill="#a2a2a2" stroke="#141414" stroke-width="0.8" stroke-linejoin="round"/>
<line x1="379.5" y1="162.45" x2="500.6" y2="162.45" stroke="#141414" stroke-width="1.5"/>
<line x1="377.5" y1="162.45" x2="379.5" y2="162.45" stroke="#141414" stroke-width="0.9"/>
<text x="376" y="164.4" class="vl">0%</text>
<line x1="377.5" y1="149.78" x2="379.5" y2="149.78" stroke="#141414" stroke-width="0.9"/>
<text x="376" y="151.98" class="vl">20%</text>
<line x1="377.5" y1="137.36" x2="379.5" y2="137.36" stroke="#141414" stroke-width="0.9"/>
<text x="376" y="139.56" class="vl">40%</text>
<line x1="377.5" y1="124.94" x2="379.5" y2="124.94" stroke="#141414" stroke-width="0.9"/>
<text x="376" y="127.14" class="vl">60%</text>
<line x1="377.5" y1="112.52" x2="379.5" y2="112.52" stroke="#141414" stroke-width="0.9"/>
<text x="376" y="114.72" class="vl">80%</text>
<line x1="377.5" y1="100.1" x2="379.5" y2="100.1" stroke="#141414" stroke-width="0.9"/>
<text x="376" y="102.3" class="vl">100%</text>
<line x1="379.5" y1="100.1" x2="379.5" y2="162.45" stroke="#141414" stroke-width="1.35"/>
<line x1="379.5" y1="162.45" x2="379.5" y2="164.25" stroke="#141414" stroke-width="0.9"/>
<line x1="409.77" y1="162.45" x2="409.77" y2="164.25" stroke="#141414" stroke-width="0.9"/>
<line x1="440.05" y1="162.45" x2="440.05" y2="164.25" stroke="#141414" stroke-width="0.9"/>
<line x1="470.33" y1="162.45" x2="470.33" y2="164.25" stroke="#141414" stroke-width="0.9"/>
<line x1="500.6" y1="162.45" x2="500.6" y2="164.25" stroke="#141414" stroke-width="0.9"/>
<text x="395.14" y="169.4" class="cl">0</text>
<text x="425.41" y="169.4" class="cl">145</text>
<text x="455.69" y="169.4" class="cl">257</text>
<text x="485.96" y="169.4" class="cl">379</text>
<polygon points="393.43,102.95 396.23,101.45 396.23,159.7 393.43,161.2" fill="#5a5a5a" stroke="#141414" stroke-width="1.1" stroke-linejoin="round"/>
<polygon points="386.92,102.95 393.43,102.95 393.43,161.2 386.92,161.2" fill="url(#gL)" stroke="#141414" stroke-width="1.1" stroke-linejoin="round"/>
<polygon points="386.92,102.95 393.43,102.95 396.23,101.45 389.72,101.45" fill="#222222" stroke="#141414" stroke-width="1.1" stroke-linejoin="round"/>
<polygon points="399.94,161.2 402.74,159.7 402.74,159.7 399.94,161.2" fill="#2e2e2e" stroke="#141414" stroke-width="1.1" stroke-linejoin="round"/>
<polygon points="393.43,161.2 399.94,161.2 402.74,159.7 396.23,159.7" fill="#1a1a1a" stroke="#141414" stroke-width="1.1" stroke-linejoin="round"/>
<polygon points="406.44,118.04 409.24,116.54 409.24,159.7 406.44,161.2" fill="#141414" stroke="#141414" stroke-width="1.1" stroke-linejoin="round"/>
<polygon points="399.94,118.04 406.44,118.04 406.44,161.2 399.94,161.2" fill="url(#gD)" stroke="#141414" stroke-width="1.1" stroke-linejoin="round"/>
<polygon points="399.94,118.04 406.44,118.04 409.24,116.54 402.74,116.54" fill="#111111" stroke="#141414" stroke-width="1.1" stroke-linejoin="round"/>
<polygon points="423.7,106.92 426.5,105.42 426.5,159.7 423.7,161.2" fill="#5a5a5a" stroke="#141414" stroke-width="1.1" stroke-linejoin="round"/>
<polygon points="417.19,106.92 423.7,106.92 423.7,161.2 417.19,161.2" fill="url(#gL)" stroke="#141414" stroke-width="1.1" stroke-linejoin="round"/>
<polygon points="417.19,106.92 423.7,106.92 426.5,105.42 419.99,105.42" fill="#222222" stroke="#141414" stroke-width="1.1" stroke-linejoin="round"/>
<polygon points="430.21,161.2 433.01,159.7 433.01,159.7 430.21,161.2" fill="#2e2e2e" stroke="#141414" stroke-width="1.1" stroke-linejoin="round"/>
<polygon points="423.7,161.2 430.21,161.2 433.01,159.7 426.5,159.7" fill="#1a1a1a" stroke="#141414" stroke-width="1.1" stroke-linejoin="round"/>
<polygon points="436.72,121.77 439.52,120.27 439.52,159.7 436.72,161.2" fill="#141414" stroke="#141414" stroke-width="1.1" stroke-linejoin="round"/>
<polygon points="430.21,121.77 436.72,121.77 436.72,161.2 430.21,161.2" fill="url(#gD)" stroke="#141414" stroke-width="1.1" stroke-linejoin="round"/>
<polygon points="430.21,121.77 436.72,121.77 439.52,120.27 433.01,120.27" fill="#111111" stroke="#141414" stroke-width="1.1" stroke-linejoin="round"/>
<polygon points="453.98,110.15 456.78,108.65 456.78,159.7 453.98,161.2" fill="#5a5a5a" stroke="#141414" stroke-width="1.1" stroke-linejoin="round"/>
<polygon points="447.47,110.15 453.98,110.15 453.98,161.2 447.47,161.2" fill="url(#gL)" stroke="#141414" stroke-width="1.1" stroke-linejoin="round"/>
<polygon points="447.47,110.15 453.98,110.15 456.78,108.65 450.27,108.65" fill="#222222" stroke="#141414" stroke-width="1.1" stroke-linejoin="round"/>
<polygon points="460.49,161.2 463.29,159.7 463.29,159.7 460.49,161.2" fill="#2e2e2e" stroke="#141414" stroke-width="1.1" stroke-linejoin="round"/>
<polygon points="453.98,161.2 460.49,161.2 463.29,159.7 456.78,159.7" fill="#1a1a1a" stroke="#141414" stroke-width="1.1" stroke-linejoin="round"/>
<polygon points="466.99,125.8 469.79,124.3 469.79,159.7 466.99,161.2" fill="#141414" stroke="#141414" stroke-width="1.1" stroke-linejoin="round"/>
<polygon points="460.49,125.8 466.99,125.8 466.99,161.2 460.49,161.2" fill="url(#gD)" stroke="#141414" stroke-width="1.1" stroke-linejoin="round"/>
<polygon points="460.49,125.8 466.99,125.8 469.79,124.3 463.29,124.3" fill="#111111" stroke="#141414" stroke-width="1.1" stroke-linejoin="round"/>
<polygon points="484.25,107.92 487.05,106.42 487.05,159.7 484.25,161.2" fill="#5a5a5a" stroke="#141414" stroke-width="1.1" stroke-linejoin="round"/>
<polygon points="477.74,107.92 484.25,107.92 484.25,161.2 477.74,161.2" fill="url(#gL)" stroke="#141414" stroke-width="1.1" stroke-linejoin="round"/>
<polygon points="477.74,107.92 484.25,107.92 487.05,106.42 480.54,106.42" fill="#222222" stroke="#141414" stroke-width="1.1" stroke-linejoin="round"/>
<polygon points="490.76,161.2 493.56,159.7 493.56,159.7 490.76,161.2" fill="#2e2e2e" stroke="#141414" stroke-width="1.1" stroke-linejoin="round"/>
<polygon points="484.25,161.2 490.76,161.2 493.56,159.7 487.05,159.7" fill="#1a1a1a" stroke="#141414" stroke-width="1.1" stroke-linejoin="round"/>
<polygon points="497.27,115.56 500.07,114.06 500.07,159.7 497.27,161.2" fill="#141414" stroke="#141414" stroke-width="1.1" stroke-linejoin="round"/>
<polygon points="490.76,115.56 497.27,115.56 497.27,161.2 490.76,161.2" fill="url(#gD)" stroke="#141414" stroke-width="1.1" stroke-linejoin="round"/>
<polygon points="490.76,115.56 497.27,115.56 500.07,114.06 493.56,114.06" fill="#111111" stroke="#141414" stroke-width="1.1" stroke-linejoin="round"/>
<rect x="488" y="91" width="29.5" height="17" fill="#fdfdfd" stroke="#141414" stroke-width="1.3"/>
<text x="502.75" y="102.5" class="tt">Pt 6</text>
<rect x="2" y="180" width="169.4" height="85.3" fill="#fbfbfb" stroke="#141414" stroke-width="1.4"/>
<polygon points="46.1,184.5 156.2,184.5 156.2,246.7 46.1,246.7" fill="#fdfdfd" stroke="#141414" stroke-width="1.35" stroke-linejoin="round"/>
<polygon points="39.1,188.8 46.1,184.5 46.1,246.7 39.1,251" fill="#fdfdfd" stroke="#141414" stroke-width="1.35" stroke-linejoin="round"/>
<line x1="39.1" y1="238.56" x2="46.1" y2="234.26" stroke="#141414" stroke-width="1.25"/>
<line x1="46.1" y1="234.26" x2="156.2" y2="234.26" stroke="#141414" stroke-width="1.25"/>
<line x1="39.1" y1="226.12" x2="46.1" y2="221.82" stroke="#141414" stroke-width="1.25"/>
<line x1="46.1" y1="221.82" x2="156.2" y2="221.82" stroke="#141414" stroke-width="1.25"/>
<line x1="39.1" y1="213.68" x2="46.1" y2="209.38" stroke="#141414" stroke-width="1.25"/>
<line x1="46.1" y1="209.38" x2="156.2" y2="209.38" stroke="#141414" stroke-width="1.25"/>
<line x1="39.1" y1="201.24" x2="46.1" y2="196.94" stroke="#141414" stroke-width="1.25"/>
<line x1="46.1" y1="196.94" x2="156.2" y2="196.94" stroke="#141414" stroke-width="1.25"/>
<polygon points="39.1,251.25 149.2,251.25 156.2,246.95 46.1,246.95" fill="#a2a2a2" stroke="#141414" stroke-width="0.8" stroke-linejoin="round"/>
<line x1="39.1" y1="251.25" x2="149.2" y2="251.25" stroke="#141414" stroke-width="1.5"/>
<line x1="37.1" y1="251.25" x2="39.1" y2="251.25" stroke="#141414" stroke-width="0.9"/>
<text x="37.4" y="253.2" class="vl">0%</text>
<line x1="37.1" y1="238.56" x2="39.1" y2="238.56" stroke="#141414" stroke-width="0.9"/>
<text x="37.4" y="240.76" class="vl">20%</text>
<line x1="37.1" y1="226.12" x2="39.1" y2="226.12" stroke="#141414" stroke-width="0.9"/>
<text x="37.4" y="228.32" class="vl">40%</text>
<line x1="37.1" y1="213.68" x2="39.1" y2="213.68" stroke="#141414" stroke-width="0.9"/>
<text x="37.4" y="215.88" class="vl">60%</text>
<line x1="37.1" y1="201.24" x2="39.1" y2="201.24" stroke="#141414" stroke-width="0.9"/>
<text x="37.4" y="203.44" class="vl">80%</text>
<line x1="37.1" y1="188.8" x2="39.1" y2="188.8" stroke="#141414" stroke-width="0.9"/>
<text x="37.4" y="191" class="vl">100%</text>
<line x1="39.1" y1="188.8" x2="39.1" y2="251.25" stroke="#141414" stroke-width="1.35"/>
<line x1="39.1" y1="251.25" x2="39.1" y2="253.05" stroke="#141414" stroke-width="0.9"/>
<line x1="75.8" y1="251.25" x2="75.8" y2="253.05" stroke="#141414" stroke-width="0.9"/>
<line x1="112.5" y1="251.25" x2="112.5" y2="253.05" stroke="#141414" stroke-width="0.9"/>
<line x1="149.2" y1="251.25" x2="149.2" y2="253.05" stroke="#141414" stroke-width="0.9"/>
<text x="57.95" y="258.3" class="cl">0</text>
<text x="94.65" y="258.3" class="cl">193</text>
<text x="131.35" y="258.3" class="cl">321</text>
<polygon points="55.48,193.15 58.28,191.65 58.28,248.5 55.48,250" fill="#5a5a5a" stroke="#141414" stroke-width="1.1" stroke-linejoin="round"/>
<polygon points="47.59,193.15 55.48,193.15 55.48,250 47.59,250" fill="url(#gL)" stroke="#141414" stroke-width="1.1" stroke-linejoin="round"/>
<polygon points="47.59,193.15 55.48,193.15 58.28,191.65 50.39,191.65" fill="#222222" stroke="#141414" stroke-width="1.1" stroke-linejoin="round"/>
<polygon points="63.37,189.91 66.17,188.41 66.17,248.5 63.37,250" fill="#2e2e2e" stroke="#141414" stroke-width="1.1" stroke-linejoin="round"/>
<polygon points="55.48,189.91 63.37,189.91 63.37,250 55.48,250" fill="url(#gM)" stroke="#141414" stroke-width="1.1" stroke-linejoin="round"/>
<polygon points="55.48,189.91 63.37,189.91 66.17,188.41 58.28,188.41" fill="#1a1a1a" stroke="#141414" stroke-width="1.1" stroke-linejoin="round"/>
<polygon points="71.26,211.31 74.06,209.81 74.06,248.5 71.26,250" fill="#141414" stroke="#141414" stroke-width="1.1" stroke-linejoin="round"/>
<polygon points="63.37,211.31 71.26,211.31 71.26,250 63.37,250" fill="url(#gD)" stroke="#141414" stroke-width="1.1" stroke-linejoin="round"/>
<polygon points="63.37,211.31 71.26,211.31 74.06,209.81 66.17,209.81" fill="#111111" stroke="#141414" stroke-width="1.1" stroke-linejoin="round"/>
<polygon points="92.18,215.42 94.98,213.92 94.98,248.5 92.18,250" fill="#5a5a5a" stroke="#141414" stroke-width="1.1" stroke-linejoin="round"/>
<polygon points="84.29,215.42 92.18,215.42 92.18,250 84.29,250" fill="url(#gL)" stroke="#141414" stroke-width="1.1" stroke-linejoin="round"/>
<polygon points="84.29,215.42 92.18,215.42 94.98,213.92 87.09,213.92" fill="#222222" stroke="#141414" stroke-width="1.1" stroke-linejoin="round"/>
<polygon points="100.07,209.69 102.87,208.19 102.87,248.5 100.07,250" fill="#2e2e2e" stroke="#141414" stroke-width="1.1" stroke-linejoin="round"/>
<polygon points="92.18,209.69 100.07,209.69 100.07,250 92.18,250" fill="url(#gM)" stroke="#141414" stroke-width="1.1" stroke-linejoin="round"/>
<polygon points="92.18,209.69 100.07,209.69 102.87,208.19 94.98,208.19" fill="#1a1a1a" stroke="#141414" stroke-width="1.1" stroke-linejoin="round"/>
<polygon points="107.96,222.01 110.76,220.51 110.76,248.5 107.96,250" fill="#141414" stroke="#141414" stroke-width="1.1" stroke-linejoin="round"/>
<polygon points="100.07,222.01 107.96,222.01 107.96,250 100.07,250" fill="url(#gD)" stroke="#141414" stroke-width="1.1" stroke-linejoin="round"/>
<polygon points="100.07,222.01 107.96,222.01 110.76,220.51 102.87,220.51" fill="#111111" stroke="#141414" stroke-width="1.1" stroke-linejoin="round"/>
<polygon points="128.88,230.22 131.68,228.72 131.68,248.5 128.88,250" fill="#5a5a5a" stroke="#141414" stroke-width="1.1" stroke-linejoin="round"/>
<polygon points="120.99,230.22 128.88,230.22 128.88,250 120.99,250" fill="url(#gL)" stroke="#141414" stroke-width="1.1" stroke-linejoin="round"/>
<polygon points="120.99,230.22 128.88,230.22 131.68,228.72 123.79,228.72" fill="#222222" stroke="#141414" stroke-width="1.1" stroke-linejoin="round"/>
<polygon points="136.77,229.72 139.57,228.22 139.57,248.5 136.77,250" fill="#2e2e2e" stroke="#141414" stroke-width="1.1" stroke-linejoin="round"/>
<polygon points="128.88,229.72 136.77,229.72 136.77,250 128.88,250" fill="url(#gM)" stroke="#141414" stroke-width="1.1" stroke-linejoin="round"/>
<polygon points="128.88,229.72 136.77,229.72 139.57,228.22 131.68,228.22" fill="#1a1a1a" stroke="#141414" stroke-width="1.1" stroke-linejoin="round"/>
<polygon points="144.66,236.13 147.46,234.63 147.46,248.5 144.66,250" fill="#141414" stroke="#141414" stroke-width="1.1" stroke-linejoin="round"/>
<polygon points="136.77,236.13 144.66,236.13 144.66,250 136.77,250" fill="url(#gD)" stroke="#141414" stroke-width="1.1" stroke-linejoin="round"/>
<polygon points="136.77,236.13 144.66,236.13 147.46,234.63 139.57,234.63" fill="#111111" stroke="#141414" stroke-width="1.1" stroke-linejoin="round"/>
<rect x="141.1" y="180" width="30.3" height="17.3" fill="#fdfdfd" stroke="#141414" stroke-width="1.3"/>
<text x="156.25" y="191.4" class="tt">Pt 7</text>
<rect x="175.5" y="179.5" width="169.1" height="85.1" fill="#fbfbfb" stroke="#141414" stroke-width="1.4"/>
<polygon points="219.4,188.7 329.1,188.7 329.1,247.4 219.4,247.4" fill="#fdfdfd" stroke="#141414" stroke-width="1.35" stroke-linejoin="round"/>
<polygon points="212.2,192.9 219.4,188.7 219.4,247.4 212.2,251.6" fill="#fdfdfd" stroke="#141414" stroke-width="1.35" stroke-linejoin="round"/>
<line x1="212.2" y1="239.86" x2="219.4" y2="235.66" stroke="#141414" stroke-width="1.25"/>
<line x1="219.4" y1="235.66" x2="329.1" y2="235.66" stroke="#141414" stroke-width="1.25"/>
<line x1="212.2" y1="228.12" x2="219.4" y2="223.92" stroke="#141414" stroke-width="1.25"/>
<line x1="219.4" y1="223.92" x2="329.1" y2="223.92" stroke="#141414" stroke-width="1.25"/>
<line x1="212.2" y1="216.38" x2="219.4" y2="212.18" stroke="#141414" stroke-width="1.25"/>
<line x1="219.4" y1="212.18" x2="329.1" y2="212.18" stroke="#141414" stroke-width="1.25"/>
<line x1="212.2" y1="204.64" x2="219.4" y2="200.44" stroke="#141414" stroke-width="1.25"/>
<line x1="219.4" y1="200.44" x2="329.1" y2="200.44" stroke="#141414" stroke-width="1.25"/>
<polygon points="212.2,251.85 321.9,251.85 329.1,247.65 219.4,247.65" fill="#a2a2a2" stroke="#141414" stroke-width="0.8" stroke-linejoin="round"/>
<line x1="212.2" y1="251.85" x2="321.9" y2="251.85" stroke="#141414" stroke-width="1.5"/>
<line x1="210.2" y1="251.85" x2="212.2" y2="251.85" stroke="#141414" stroke-width="0.9"/>
<text x="210.7" y="253.8" class="vl">0%</text>
<line x1="210.2" y1="239.86" x2="212.2" y2="239.86" stroke="#141414" stroke-width="0.9"/>
<text x="210.7" y="242.06" class="vl">20%</text>
<line x1="210.2" y1="228.12" x2="212.2" y2="228.12" stroke="#141414" stroke-width="0.9"/>
<text x="210.7" y="230.32" class="vl">40%</text>
<line x1="210.2" y1="216.38" x2="212.2" y2="216.38" stroke="#141414" stroke-width="0.9"/>
<text x="210.7" y="218.58" class="vl">60%</text>
<line x1="210.2" y1="204.64" x2="212.2" y2="204.64" stroke="#141414" stroke-width="0.9"/>
<text x="210.7" y="206.84" class="vl">80%</text>
<line x1="210.2" y1="192.9" x2="212.2" y2="192.9" stroke="#141414" stroke-width="0.9"/>
<text x="210.7" y="195.1" class="vl">100%</text>
<line x1="212.2" y1="192.9" x2="212.2" y2="251.85" stroke="#141414" stroke-width="1.35"/>
<line x1="212.2" y1="251.85" x2="212.2" y2="253.65" stroke="#141414" stroke-width="0.9"/>
<line x1="248.77" y1="251.85" x2="248.77" y2="253.65" stroke="#141414" stroke-width="0.9"/>
<line x1="285.33" y1="251.85" x2="285.33" y2="253.65" stroke="#141414" stroke-width="0.9"/>
<line x1="321.9" y1="251.85" x2="321.9" y2="253.65" stroke="#141414" stroke-width="0.9"/>
<text x="230.98" y="258.3" class="cl">0</text>
<text x="267.55" y="258.3" class="cl">140</text>
<text x="304.12" y="258.3" class="cl">261</text>
<polygon points="229.02,192.96 231.82,191.46 231.82,249.1 229.02,250.6" fill="#5a5a5a" stroke="#141414" stroke-width="1.1" stroke-linejoin="round"/>
<polygon points="221.16,192.96 229.02,192.96 229.02,250.6 221.16,250.6" fill="url(#gL)" stroke="#141414" stroke-width="1.1" stroke-linejoin="round"/>
<polygon points="221.16,192.96 229.02,192.96 231.82,191.46 223.96,191.46" fill="#222222" stroke="#141414" stroke-width="1.1" stroke-linejoin="round"/>
<polygon points="236.88,191.55 239.68,190.05 239.68,249.1 236.88,250.6" fill="#2e2e2e" stroke="#141414" stroke-width="1.1" stroke-linejoin="round"/>
<polygon points="229.02,191.55 236.88,191.55 236.88,250.6 229.02,250.6" fill="url(#gM)" stroke="#141414" stroke-width="1.1" stroke-linejoin="round"/>
<polygon points="229.02,191.55 236.88,191.55 239.68,190.05 231.82,190.05" fill="#1a1a1a" stroke="#141414" stroke-width="1.1" stroke-linejoin="round"/>
<polygon points="244.74,206.57 247.54,205.07 247.54,249.1 244.74,250.6" fill="#141414" stroke="#141414" stroke-width="1.1" stroke-linejoin="round"/>
<polygon points="236.88,206.57 244.74,206.57 244.74,250.6 236.88,250.6" fill="url(#gD)" stroke="#141414" stroke-width="1.1" stroke-linejoin="round"/>
<polygon points="236.88,206.57 244.74,206.57 247.54,205.07 239.68,205.07" fill="#111111" stroke="#141414" stroke-width="1.1" stroke-linejoin="round"/>
<polygon points="265.59,245.85 268.39,244.35 268.39,249.1 265.59,250.6" fill="#5a5a5a" stroke="#141414" stroke-width="1.1" stroke-linejoin="round"/>
<polygon points="257.73,245.85 265.59,245.85 265.59,250.6 257.73,250.6" fill="url(#gL)" stroke="#141414" stroke-width="1.1" stroke-linejoin="round"/>
<polygon points="257.73,245.85 265.59,245.85 268.39,244.35 260.53,244.35" fill="#222222" stroke="#141414" stroke-width="1.1" stroke-linejoin="round"/>
<polygon points="273.45,240.62 276.25,239.12 276.25,249.1 273.45,250.6" fill="#2e2e2e" stroke="#141414" stroke-width="1.1" stroke-linejoin="round"/>
<polygon points="265.59,240.62 273.45,240.62 273.45,250.6 265.59,250.6" fill="url(#gM)" stroke="#141414" stroke-width="1.1" stroke-linejoin="round"/>
<polygon points="265.59,240.62 273.45,240.62 276.25,239.12 268.39,239.12" fill="#1a1a1a" stroke="#141414" stroke-width="1.1" stroke-linejoin="round"/>
<polygon points="281.31,244.14 284.11,242.64 284.11,249.1 281.31,250.6" fill="#141414" stroke="#141414" stroke-width="1.1" stroke-linejoin="round"/>
<polygon points="273.45,244.14 281.31,244.14 281.31,250.6 273.45,250.6" fill="url(#gD)" stroke="#141414" stroke-width="1.1" stroke-linejoin="round"/>
<polygon points="273.45,244.14 281.31,244.14 284.11,242.64 276.25,242.64" fill="#111111" stroke="#141414" stroke-width="1.1" stroke-linejoin="round"/>
<polygon points="302.15,250.6 304.95,249.1 304.95,249.1 302.15,250.6" fill="#5a5a5a" stroke="#141414" stroke-width="1.1" stroke-linejoin="round"/>
<polygon points="294.29,250.6 302.15,250.6 304.95,249.1 297.09,249.1" fill="#222222" stroke="#141414" stroke-width="1.1" stroke-linejoin="round"/>
<polygon points="310.02,250.6 312.82,249.1 312.82,249.1 310.02,250.6" fill="#2e2e2e" stroke="#141414" stroke-width="1.1" stroke-linejoin="round"/>
<polygon points="302.15,250.6 310.02,250.6 312.82,249.1 304.95,249.1" fill="#1a1a1a" stroke="#141414" stroke-width="1.1" stroke-linejoin="round"/>
<polygon points="317.88,246.43 320.68,244.93 320.68,249.1 317.88,250.6" fill="#141414" stroke="#141414" stroke-width="1.1" stroke-linejoin="round"/>
<polygon points="310.02,246.43 317.88,246.43 317.88,250.6 310.02,250.6" fill="url(#gD)" stroke="#141414" stroke-width="1.1" stroke-linejoin="round"/>
<polygon points="310.02,246.43 317.88,246.43 320.68,244.93 312.82,244.93" fill="#111111" stroke="#141414" stroke-width="1.1" stroke-linejoin="round"/>
<rect x="315.1" y="179.5" width="29.5" height="17.4" fill="#fdfdfd" stroke="#141414" stroke-width="1.3"/>
<text x="329.85" y="191.1" class="tt">Pt 8</text>
<rect x="348.2" y="179" width="169.4" height="85.5" fill="#fbfbfb" stroke="#141414" stroke-width="1.4"/>
<polygon points="392.6,186.9 498.9,186.9 498.9,244.7 392.6,244.7" fill="#fdfdfd" stroke="#141414" stroke-width="1.35" stroke-linejoin="round"/>
<polygon points="385.8,190.8 392.6,186.9 392.6,244.7 385.8,248.6" fill="#fdfdfd" stroke="#141414" stroke-width="1.35" stroke-linejoin="round"/>
<line x1="385.8" y1="237.04" x2="392.6" y2="233.14" stroke="#141414" stroke-width="1.25"/>
<line x1="392.6" y1="233.14" x2="498.9" y2="233.14" stroke="#141414" stroke-width="1.25"/>
<line x1="385.8" y1="225.48" x2="392.6" y2="221.58" stroke="#141414" stroke-width="1.25"/>
<line x1="392.6" y1="221.58" x2="498.9" y2="221.58" stroke="#141414" stroke-width="1.25"/>
<line x1="385.8" y1="213.92" x2="392.6" y2="210.02" stroke="#141414" stroke-width="1.25"/>
<line x1="392.6" y1="210.02" x2="498.9" y2="210.02" stroke="#141414" stroke-width="1.25"/>
<line x1="385.8" y1="202.36" x2="392.6" y2="198.46" stroke="#141414" stroke-width="1.25"/>
<line x1="392.6" y1="198.46" x2="498.9" y2="198.46" stroke="#141414" stroke-width="1.25"/>
<polygon points="385.8,248.85 492.1,248.85 498.9,244.95 392.6,244.95" fill="#a2a2a2" stroke="#141414" stroke-width="0.8" stroke-linejoin="round"/>
<line x1="385.8" y1="248.85" x2="492.1" y2="248.85" stroke="#141414" stroke-width="1.5"/>
<line x1="383.8" y1="248.85" x2="385.8" y2="248.85" stroke="#141414" stroke-width="0.9"/>
<text x="384.1" y="250.8" class="vl">0%</text>
<line x1="383.8" y1="237.04" x2="385.8" y2="237.04" stroke="#141414" stroke-width="0.9"/>
<text x="384.1" y="239.24" class="vl">20%</text>
<line x1="383.8" y1="225.48" x2="385.8" y2="225.48" stroke="#141414" stroke-width="0.9"/>
<text x="384.1" y="227.68" class="vl">40%</text>
<line x1="383.8" y1="213.92" x2="385.8" y2="213.92" stroke="#141414" stroke-width="0.9"/>
<text x="384.1" y="216.12" class="vl">60%</text>
<line x1="383.8" y1="202.36" x2="385.8" y2="202.36" stroke="#141414" stroke-width="0.9"/>
<text x="384.1" y="204.56" class="vl">80%</text>
<line x1="383.8" y1="190.8" x2="385.8" y2="190.8" stroke="#141414" stroke-width="0.9"/>
<text x="384.1" y="193" class="vl">100%</text>
<line x1="385.8" y1="190.8" x2="385.8" y2="248.85" stroke="#141414" stroke-width="1.35"/>
<line x1="385.8" y1="248.85" x2="385.8" y2="250.65" stroke="#141414" stroke-width="0.9"/>
<line x1="421.23" y1="248.85" x2="421.23" y2="250.65" stroke="#141414" stroke-width="0.9"/>
<line x1="456.67" y1="248.85" x2="456.67" y2="250.65" stroke="#141414" stroke-width="0.9"/>
<line x1="492.1" y1="248.85" x2="492.1" y2="250.65" stroke="#141414" stroke-width="0.9"/>
<text x="404.02" y="255.6" class="cl">0</text>
<text x="439.45" y="255.6" class="cl">127</text>
<text x="474.88" y="255.6" class="cl">245</text>
<polygon points="402.1,192.46 404.9,190.96 404.9,246.1 402.1,247.6" fill="#5a5a5a" stroke="#141414" stroke-width="1.1" stroke-linejoin="round"/>
<polygon points="394.48,192.46 402.1,192.46 402.1,247.6 394.48,247.6" fill="url(#gL)" stroke="#141414" stroke-width="1.1" stroke-linejoin="round"/>
<polygon points="394.48,192.46 402.1,192.46 404.9,190.96 397.28,190.96" fill="#222222" stroke="#141414" stroke-width="1.1" stroke-linejoin="round"/>
<polygon points="409.72,190.72 412.52,189.22 412.52,246.1 409.72,247.6" fill="#2e2e2e" stroke="#141414" stroke-width="1.1" stroke-linejoin="round"/>
<polygon points="402.1,190.72 409.72,190.72 409.72,247.6 402.1,247.6" fill="url(#gM)" stroke="#141414" stroke-width="1.1" stroke-linejoin="round"/>
<polygon points="402.1,190.72 409.72,190.72 412.52,189.22 404.9,189.22" fill="#1a1a1a" stroke="#141414" stroke-width="1.1" stroke-linejoin="round"/>
<polygon points="417.34,205.93 420.14,204.43 420.14,246.1 417.34,247.6" fill="#141414" stroke="#141414" stroke-width="1.1" stroke-linejoin="round"/>
<polygon points="409.72,205.93 417.34,205.93 417.34,247.6 409.72,247.6" fill="url(#gD)" stroke="#141414" stroke-width="1.1" stroke-linejoin="round"/>
<polygon points="409.72,205.93 417.34,205.93 420.14,204.43 412.52,204.43" fill="#111111" stroke="#141414" stroke-width="1.1" stroke-linejoin="round"/>
<polygon points="437.53,200.84 440.33,199.34 440.33,246.1 437.53,247.6" fill="#5a5a5a" stroke="#141414" stroke-width="1.1" stroke-linejoin="round"/>
<polygon points="429.91,200.84 437.53,200.84 437.53,247.6 429.91,247.6" fill="url(#gL)" stroke="#141414" stroke-width="1.1" stroke-linejoin="round"/>
<polygon points="429.91,200.84 437.53,200.84 440.33,199.34 432.71,199.34" fill="#222222" stroke="#141414" stroke-width="1.1" stroke-linejoin="round"/>
<polygon points="445.15,194.94 447.95,193.44 447.95,246.1 445.15,247.6" fill="#2e2e2e" stroke="#141414" stroke-width="1.1" stroke-linejoin="round"/>
<polygon points="437.53,194.94 445.15,194.94 445.15,247.6 437.53,247.6" fill="url(#gM)" stroke="#141414" stroke-width="1.1" stroke-linejoin="round"/>
<polygon points="437.53,194.94 445.15,194.94 447.95,193.44 440.33,193.44" fill="#1a1a1a" stroke="#141414" stroke-width="1.1" stroke-linejoin="round"/>
<polygon points="452.77,211.76 455.57,210.26 455.57,246.1 452.77,247.6" fill="#141414" stroke="#141414" stroke-width="1.1" stroke-linejoin="round"/>
<polygon points="445.15,211.76 452.77,211.76 452.77,247.6 445.15,247.6" fill="url(#gD)" stroke="#141414" stroke-width="1.1" stroke-linejoin="round"/>
<polygon points="445.15,211.76 452.77,211.76 455.57,210.26 447.95,210.26" fill="#111111" stroke="#141414" stroke-width="1.1" stroke-linejoin="round"/>
<polygon points="472.97,234.83 475.77,233.33 475.77,246.1 472.97,247.6" fill="#5a5a5a" stroke="#141414" stroke-width="1.1" stroke-linejoin="round"/>
<polygon points="465.35,234.83 472.97,234.83 472.97,247.6 465.35,247.6" fill="url(#gL)" stroke="#141414" stroke-width="1.1" stroke-linejoin="round"/>
<polygon points="465.35,234.83 472.97,234.83 475.77,233.33 468.15,233.33" fill="#222222" stroke="#141414" stroke-width="1.1" stroke-linejoin="round"/>
<polygon points="480.58,241.47 483.38,239.97 483.38,246.1 480.58,247.6" fill="#2e2e2e" stroke="#141414" stroke-width="1.1" stroke-linejoin="round"/>
<polygon points="472.97,241.47 480.58,241.47 480.58,247.6 472.97,247.6" fill="url(#gM)" stroke="#141414" stroke-width="1.1" stroke-linejoin="round"/>
<polygon points="472.97,241.47 480.58,241.47 483.38,239.97 475.77,239.97" fill="#1a1a1a" stroke="#141414" stroke-width="1.1" stroke-linejoin="round"/>
<polygon points="488.2,238.35 491,236.85 491,246.1 488.2,247.6" fill="#141414" stroke="#141414" stroke-width="1.1" stroke-linejoin="round"/>
<polygon points="480.58,238.35 488.2,238.35 488.2,247.6 480.58,247.6" fill="url(#gD)" stroke="#141414" stroke-width="1.1" stroke-linejoin="round"/>
<polygon points="480.58,238.35 488.2,238.35 491,236.85 483.38,236.85" fill="#111111" stroke="#141414" stroke-width="1.1" stroke-linejoin="round"/>
<rect x="488.4" y="179" width="29.2" height="17.2" fill="#fdfdfd" stroke="#141414" stroke-width="1.3"/>
<text x="503" y="190.9" class="tt">Pt 9</text>
<rect x="2.3" y="268" width="169.1" height="86" fill="#fbfbfb" stroke="#141414" stroke-width="1.4"/>
<polygon points="43.1,277 147.4,277 147.4,336.8 43.1,336.8" fill="#fdfdfd" stroke="#141414" stroke-width="1.35" stroke-linejoin="round"/>
<polygon points="36.1,280.9 43.1,277 43.1,336.8 36.1,340.7" fill="#fdfdfd" stroke="#141414" stroke-width="1.35" stroke-linejoin="round"/>
<line x1="36.1" y1="328.74" x2="43.1" y2="324.84" stroke="#141414" stroke-width="1.25"/>
<line x1="43.1" y1="324.84" x2="147.4" y2="324.84" stroke="#141414" stroke-width="1.25"/>
<line x1="36.1" y1="316.78" x2="43.1" y2="312.88" stroke="#141414" stroke-width="1.25"/>
<line x1="43.1" y1="312.88" x2="147.4" y2="312.88" stroke="#141414" stroke-width="1.25"/>
<line x1="36.1" y1="304.82" x2="43.1" y2="300.92" stroke="#141414" stroke-width="1.25"/>
<line x1="43.1" y1="300.92" x2="147.4" y2="300.92" stroke="#141414" stroke-width="1.25"/>
<line x1="36.1" y1="292.86" x2="43.1" y2="288.96" stroke="#141414" stroke-width="1.25"/>
<line x1="43.1" y1="288.96" x2="147.4" y2="288.96" stroke="#141414" stroke-width="1.25"/>
<polygon points="36.1,340.95 140.4,340.95 147.4,337.05 43.1,337.05" fill="#a2a2a2" stroke="#141414" stroke-width="0.8" stroke-linejoin="round"/>
<line x1="36.1" y1="340.95" x2="140.4" y2="340.95" stroke="#141414" stroke-width="1.5"/>
<line x1="34.1" y1="340.95" x2="36.1" y2="340.95" stroke="#141414" stroke-width="0.9"/>
<text x="34" y="342.9" class="vl">0%</text>
<line x1="34.1" y1="328.74" x2="36.1" y2="328.74" stroke="#141414" stroke-width="0.9"/>
<text x="34" y="330.94" class="vl">20%</text>
<line x1="34.1" y1="316.78" x2="36.1" y2="316.78" stroke="#141414" stroke-width="0.9"/>
<text x="34" y="318.98" class="vl">40%</text>
<line x1="34.1" y1="304.82" x2="36.1" y2="304.82" stroke="#141414" stroke-width="0.9"/>
<text x="34" y="307.02" class="vl">60%</text>
<line x1="34.1" y1="292.86" x2="36.1" y2="292.86" stroke="#141414" stroke-width="0.9"/>
<text x="34" y="295.06" class="vl">80%</text>
<line x1="34.1" y1="280.9" x2="36.1" y2="280.9" stroke="#141414" stroke-width="0.9"/>
<text x="34" y="283.1" class="vl">100%</text>
<line x1="36.1" y1="280.9" x2="36.1" y2="340.95" stroke="#141414" stroke-width="1.35"/>
<line x1="36.1" y1="340.95" x2="36.1" y2="342.75" stroke="#141414" stroke-width="0.9"/>
<line x1="70.87" y1="340.95" x2="70.87" y2="342.75" stroke="#141414" stroke-width="0.9"/>
<line x1="105.63" y1="340.95" x2="105.63" y2="342.75" stroke="#141414" stroke-width="0.9"/>
<line x1="140.4" y1="340.95" x2="140.4" y2="342.75" stroke="#141414" stroke-width="0.9"/>
<text x="53.98" y="347.8" class="cl">0</text>
<text x="88.75" y="347.8" class="cl">172</text>
<text x="123.52" y="347.8" class="cl">272</text>
<polygon points="52.09,282.41 54.89,280.91 54.89,338.2 52.09,339.7" fill="#5a5a5a" stroke="#141414" stroke-width="1.1" stroke-linejoin="round"/>
<polygon points="44.62,282.41 52.09,282.41 52.09,339.7 44.62,339.7" fill="url(#gL)" stroke="#141414" stroke-width="1.1" stroke-linejoin="round"/>
<polygon points="44.62,282.41 52.09,282.41 54.89,280.91 47.42,280.91" fill="#222222" stroke="#141414" stroke-width="1.1" stroke-linejoin="round"/>
<polygon points="59.57,279.72 62.37,278.22 62.37,338.2 59.57,339.7" fill="#2e2e2e" stroke="#141414" stroke-width="1.1" stroke-linejoin="round"/>
<polygon points="52.09,279.72 59.57,279.72 59.57,339.7 52.09,339.7" fill="url(#gM)" stroke="#141414" stroke-width="1.1" stroke-linejoin="round"/>
<polygon points="52.09,279.72 59.57,279.72 62.37,278.22 54.89,278.22" fill="#1a1a1a" stroke="#141414" stroke-width="1.1" stroke-linejoin="round"/>
<polygon points="67.04,298.92 69.84,297.42 69.84,338.2 67.04,339.7" fill="#141414" stroke="#141414" stroke-width="1.1" stroke-linejoin="round"/>
<polygon points="59.57,298.92 67.04,298.92 67.04,339.7 59.57,339.7" fill="url(#gD)" stroke="#141414" stroke-width="1.1" stroke-linejoin="round"/>
<polygon points="59.57,298.92 67.04,298.92 69.84,297.42 62.37,297.42" fill="#111111" stroke="#141414" stroke-width="1.1" stroke-linejoin="round"/>
<polygon points="86.86,285.64 89.66,284.14 89.66,338.2 86.86,339.7" fill="#5a5a5a" stroke="#141414" stroke-width="1.1" stroke-linejoin="round"/>
<polygon points="79.38,285.64 86.86,285.64 86.86,339.7 79.38,339.7" fill="url(#gL)" stroke="#141414" stroke-width="1.1" stroke-linejoin="round"/>
<polygon points="79.38,285.64 86.86,285.64 89.66,284.14 82.18,284.14" fill="#222222" stroke="#141414" stroke-width="1.1" stroke-linejoin="round"/>
<polygon points="94.33,282.41 97.13,280.91 97.13,338.2 94.33,339.7" fill="#2e2e2e" stroke="#141414" stroke-width="1.1" stroke-linejoin="round"/>
<polygon points="86.86,282.41 94.33,282.41 94.33,339.7 86.86,339.7" fill="url(#gM)" stroke="#141414" stroke-width="1.1" stroke-linejoin="round"/>
<polygon points="86.86,282.41 94.33,282.41 97.13,280.91 89.66,280.91" fill="#1a1a1a" stroke="#141414" stroke-width="1.1" stroke-linejoin="round"/>
<polygon points="101.81,301.73 104.61,300.23 104.61,338.2 101.81,339.7" fill="#141414" stroke="#141414" stroke-width="1.1" stroke-linejoin="round"/>
<polygon points="94.33,301.73 101.81,301.73 101.81,339.7 94.33,339.7" fill="url(#gD)" stroke="#141414" stroke-width="1.1" stroke-linejoin="round"/>
<polygon points="94.33,301.73 101.81,301.73 104.61,300.23 97.13,300.23" fill="#111111" stroke="#141414" stroke-width="1.1" stroke-linejoin="round"/>
<polygon points="121.63,284.44 124.43,282.94 124.43,338.2 121.63,339.7" fill="#5a5a5a" stroke="#141414" stroke-width="1.1" stroke-linejoin="round"/>
<polygon points="114.15,284.44 121.63,284.44 121.63,339.7 114.15,339.7" fill="url(#gL)" stroke="#141414" stroke-width="1.1" stroke-linejoin="round"/>
<polygon points="114.15,284.44 121.63,284.44 124.43,282.94 116.95,282.94" fill="#222222" stroke="#141414" stroke-width="1.1" stroke-linejoin="round"/>
<polygon points="129.1,282.23 131.9,280.73 131.9,338.2 129.1,339.7" fill="#2e2e2e" stroke="#141414" stroke-width="1.1" stroke-linejoin="round"/>
<polygon points="121.63,282.23 129.1,282.23 129.1,339.7 121.63,339.7" fill="url(#gM)" stroke="#141414" stroke-width="1.1" stroke-linejoin="round"/>
<polygon points="121.63,282.23 129.1,282.23 131.9,280.73 124.43,280.73" fill="#1a1a1a" stroke="#141414" stroke-width="1.1" stroke-linejoin="round"/>
<polygon points="136.58,304.42 139.38,302.92 139.38,338.2 136.58,339.7" fill="#141414" stroke="#141414" stroke-width="1.1" stroke-linejoin="round"/>
<polygon points="129.1,304.42 136.58,304.42 136.58,339.7 129.1,339.7" fill="url(#gD)" stroke="#141414" stroke-width="1.1" stroke-linejoin="round"/>
<polygon points="129.1,304.42 136.58,304.42 139.38,302.92 131.9,302.92" fill="#111111" stroke="#141414" stroke-width="1.1" stroke-linejoin="round"/>
<rect x="134.8" y="268" width="36.6" height="16.9" fill="#fdfdfd" stroke="#141414" stroke-width="1.3"/>
<text x="153.1" y="279.4" class="tt">Pt 10</text>
<rect x="175.6" y="268.5" width="169.4" height="85.5" fill="#fbfbfb" stroke="#141414" stroke-width="1.4"/>
<polygon points="206,273.9 338.4,273.9 338.4,337.4 206,337.4" fill="#fdfdfd" stroke="#141414" stroke-width="1.35" stroke-linejoin="round"/>
<polygon points="200,277.2 206,273.9 206,337.4 200,340.7" fill="#fdfdfd" stroke="#141414" stroke-width="1.35" stroke-linejoin="round"/>
<line x1="200" y1="328" x2="206" y2="324.7" stroke="#141414" stroke-width="1.25"/>
<line x1="206" y1="324.7" x2="338.4" y2="324.7" stroke="#141414" stroke-width="1.25"/>
<line x1="200" y1="315.3" x2="206" y2="312" stroke="#141414" stroke-width="1.25"/>
<line x1="206" y1="312" x2="338.4" y2="312" stroke="#141414" stroke-width="1.25"/>
<line x1="200" y1="302.6" x2="206" y2="299.3" stroke="#141414" stroke-width="1.25"/>
<line x1="206" y1="299.3" x2="338.4" y2="299.3" stroke="#141414" stroke-width="1.25"/>
<line x1="200" y1="289.9" x2="206" y2="286.6" stroke="#141414" stroke-width="1.25"/>
<line x1="206" y1="286.6" x2="338.4" y2="286.6" stroke="#141414" stroke-width="1.25"/>
<polygon points="200,340.95 332.4,340.95 338.4,337.65 206,337.65" fill="#a2a2a2" stroke="#141414" stroke-width="0.8" stroke-linejoin="round"/>
<line x1="200" y1="340.95" x2="332.4" y2="340.95" stroke="#141414" stroke-width="1.5"/>
<line x1="198" y1="340.95" x2="200" y2="340.95" stroke="#141414" stroke-width="0.9"/>
<text x="194.5" y="342.9" class="vl">0%</text>
<line x1="198" y1="328" x2="200" y2="328" stroke="#141414" stroke-width="0.9"/>
<text x="194.5" y="330.2" class="vl">20%</text>
<line x1="198" y1="315.3" x2="200" y2="315.3" stroke="#141414" stroke-width="0.9"/>
<text x="194.5" y="317.5" class="vl">40%</text>
<line x1="198" y1="302.6" x2="200" y2="302.6" stroke="#141414" stroke-width="0.9"/>
<text x="194.5" y="304.8" class="vl">60%</text>
<line x1="198" y1="289.9" x2="200" y2="289.9" stroke="#141414" stroke-width="0.9"/>
<text x="194.5" y="292.1" class="vl">80%</text>
<line x1="198" y1="277.2" x2="200" y2="277.2" stroke="#141414" stroke-width="0.9"/>
<text x="194.5" y="279.4" class="vl">100%</text>
<line x1="200" y1="277.2" x2="200" y2="340.95" stroke="#141414" stroke-width="1.35"/>
<line x1="200" y1="340.95" x2="200" y2="342.75" stroke="#141414" stroke-width="0.9"/>
<line x1="226.48" y1="340.95" x2="226.48" y2="342.75" stroke="#141414" stroke-width="0.9"/>
<line x1="252.96" y1="340.95" x2="252.96" y2="342.75" stroke="#141414" stroke-width="0.9"/>
<line x1="279.44" y1="340.95" x2="279.44" y2="342.75" stroke="#141414" stroke-width="0.9"/>
<line x1="305.92" y1="340.95" x2="305.92" y2="342.75" stroke="#141414" stroke-width="0.9"/>
<line x1="332.4" y1="340.95" x2="332.4" y2="342.75" stroke="#141414" stroke-width="0.9"/>
<text x="213.74" y="349.1" class="cl">1</text>
<text x="240.22" y="349.1" class="cl">2</text>
<text x="266.7" y="349.1" class="cl">3</text>
<text x="293.18" y="349.1" class="cl">4</text>
<text x="319.66" y="349.1" class="cl">5</text>
<polygon points="212.18,278.93 214.98,277.43 214.98,338.2 212.18,339.7" fill="#5a5a5a" stroke="#141414" stroke-width="1.1" stroke-linejoin="round"/>
<polygon points="206.49,278.93 212.18,278.93 212.18,339.7 206.49,339.7" fill="url(#gL)" stroke="#141414" stroke-width="1.1" stroke-linejoin="round"/>
<polygon points="206.49,278.93 212.18,278.93 214.98,277.43 209.29,277.43" fill="#222222" stroke="#141414" stroke-width="1.1" stroke-linejoin="round"/>
<polygon points="217.87,277.72 220.67,276.22 220.67,338.2 217.87,339.7" fill="#2e2e2e" stroke="#141414" stroke-width="1.1" stroke-linejoin="round"/>
<polygon points="212.18,277.72 217.87,277.72 217.87,339.7 212.18,339.7" fill="url(#gM)" stroke="#141414" stroke-width="1.1" stroke-linejoin="round"/>
<polygon points="212.18,277.72 217.87,277.72 220.67,276.22 214.98,276.22" fill="#1a1a1a" stroke="#141414" stroke-width="1.1" stroke-linejoin="round"/>
<polygon points="223.57,296.2 226.37,294.7 226.37,338.2 223.57,339.7" fill="#141414" stroke="#141414" stroke-width="1.1" stroke-linejoin="round"/>
<polygon points="217.87,296.2 223.57,296.2 223.57,339.7 217.87,339.7" fill="url(#gD)" stroke="#141414" stroke-width="1.1" stroke-linejoin="round"/>
<polygon points="217.87,296.2 223.57,296.2 226.37,294.7 220.67,294.7" fill="#111111" stroke="#141414" stroke-width="1.1" stroke-linejoin="round"/>
<polygon points="238.66,306.43 241.46,304.93 241.46,338.2 238.66,339.7" fill="#5a5a5a" stroke="#141414" stroke-width="1.1" stroke-linejoin="round"/>
<polygon points="232.97,306.43 238.66,306.43 238.66,339.7 232.97,339.7" fill="url(#gL)" stroke="#141414" stroke-width="1.1" stroke-linejoin="round"/>
<polygon points="232.97,306.43 238.66,306.43 241.46,304.93 235.77,304.93" fill="#222222" stroke="#141414" stroke-width="1.1" stroke-linejoin="round"/>
<polygon points="244.35,308.9 247.15,307.4 247.15,338.2 244.35,339.7" fill="#2e2e2e" stroke="#141414" stroke-width="1.1" stroke-linejoin="round"/>
<polygon points="238.66,308.9 244.35,308.9 244.35,339.7 238.66,339.7" fill="url(#gM)" stroke="#141414" stroke-width="1.1" stroke-linejoin="round"/>
<polygon points="238.66,308.9 244.35,308.9 247.15,307.4 241.46,307.4" fill="#1a1a1a" stroke="#141414" stroke-width="1.1" stroke-linejoin="round"/>
<polygon points="250.05,311.7 252.85,310.2 252.85,338.2 250.05,339.7" fill="#141414" stroke="#141414" stroke-width="1.1" stroke-linejoin="round"/>
<polygon points="244.35,311.7 250.05,311.7 250.05,339.7 244.35,339.7" fill="url(#gD)" stroke="#141414" stroke-width="1.1" stroke-linejoin="round"/>
<polygon points="244.35,311.7 250.05,311.7 252.85,310.2 247.15,310.2" fill="#111111" stroke="#141414" stroke-width="1.1" stroke-linejoin="round"/>
<polygon points="265.14,332.14 267.94,330.64 267.94,338.2 265.14,339.7" fill="#5a5a5a" stroke="#141414" stroke-width="1.1" stroke-linejoin="round"/>
<polygon points="259.45,332.14 265.14,332.14 265.14,339.7 259.45,339.7" fill="url(#gL)" stroke="#141414" stroke-width="1.1" stroke-linejoin="round"/>
<polygon points="259.45,332.14 265.14,332.14 267.94,330.64 262.25,330.64" fill="#222222" stroke="#141414" stroke-width="1.1" stroke-linejoin="round"/>
<polygon points="270.83,332.71 273.63,331.21 273.63,338.2 270.83,339.7" fill="#2e2e2e" stroke="#141414" stroke-width="1.1" stroke-linejoin="round"/>
<polygon points="265.14,332.71 270.83,332.71 270.83,339.7 265.14,339.7" fill="url(#gM)" stroke="#141414" stroke-width="1.1" stroke-linejoin="round"/>
<polygon points="265.14,332.71 270.83,332.71 273.63,331.21 267.94,331.21" fill="#1a1a1a" stroke="#141414" stroke-width="1.1" stroke-linejoin="round"/>
<polygon points="276.53,330.49 279.33,328.99 279.33,338.2 276.53,339.7" fill="#141414" stroke="#141414" stroke-width="1.1" stroke-linejoin="round"/>
<polygon points="270.83,330.49 276.53,330.49 276.53,339.7 270.83,339.7" fill="url(#gD)" stroke="#141414" stroke-width="1.1" stroke-linejoin="round"/>
<polygon points="270.83,330.49 276.53,330.49 279.33,328.99 273.63,328.99" fill="#111111" stroke="#141414" stroke-width="1.1" stroke-linejoin="round"/>
<polygon points="291.62,338.05 294.42,336.55 294.42,338.2 291.62,339.7" fill="#5a5a5a" stroke="#141414" stroke-width="1.1" stroke-linejoin="round"/>
<polygon points="285.93,338.05 291.62,338.05 291.62,339.7 285.93,339.7" fill="url(#gL)" stroke="#141414" stroke-width="1.1" stroke-linejoin="round"/>
<polygon points="285.93,338.05 291.62,338.05 294.42,336.55 288.73,336.55" fill="#222222" stroke="#141414" stroke-width="1.1" stroke-linejoin="round"/>
<polygon points="297.31,338.05 300.11,336.55 300.11,338.2 297.31,339.7" fill="#2e2e2e" stroke="#141414" stroke-width="1.1" stroke-linejoin="round"/>
<polygon points="291.62,338.05 297.31,338.05 297.31,339.7 291.62,339.7" fill="url(#gM)" stroke="#141414" stroke-width="1.1" stroke-linejoin="round"/>
<polygon points="291.62,338.05 297.31,338.05 300.11,336.55 294.42,336.55" fill="#1a1a1a" stroke="#141414" stroke-width="1.1" stroke-linejoin="round"/>
<polygon points="303.01,336.21 305.81,334.71 305.81,338.2 303.01,339.7" fill="#141414" stroke="#141414" stroke-width="1.1" stroke-linejoin="round"/>
<polygon points="297.31,336.21 303.01,336.21 303.01,339.7 297.31,339.7" fill="url(#gD)" stroke="#141414" stroke-width="1.1" stroke-linejoin="round"/>
<polygon points="297.31,336.21 303.01,336.21 305.81,334.71 300.11,334.71" fill="#111111" stroke="#141414" stroke-width="1.1" stroke-linejoin="round"/>
<polygon points="318.1,339.7 320.9,338.2 320.9,338.2 318.1,339.7" fill="#5a5a5a" stroke="#141414" stroke-width="1.1" stroke-linejoin="round"/>
<polygon points="312.41,339.7 318.1,339.7 320.9,338.2 315.21,338.2" fill="#222222" stroke="#141414" stroke-width="1.1" stroke-linejoin="round"/>
<polygon points="323.79,339 326.59,337.5 326.59,338.2 323.79,339.7" fill="#2e2e2e" stroke="#141414" stroke-width="1.1" stroke-linejoin="round"/>
<polygon points="318.1,339 323.79,339 323.79,339.7 318.1,339.7" fill="url(#gM)" stroke="#141414" stroke-width="1.1" stroke-linejoin="round"/>
<polygon points="318.1,339 323.79,339 326.59,337.5 320.9,337.5" fill="#1a1a1a" stroke="#141414" stroke-width="1.1" stroke-linejoin="round"/>
<polygon points="329.49,338.05 332.29,336.55 332.29,338.2 329.49,339.7" fill="#141414" stroke="#141414" stroke-width="1.1" stroke-linejoin="round"/>
<polygon points="323.79,338.05 329.49,338.05 329.49,339.7 323.79,339.7" fill="url(#gD)" stroke="#141414" stroke-width="1.1" stroke-linejoin="round"/>
<polygon points="323.79,338.05 329.49,338.05 332.29,336.55 326.59,336.55" fill="#111111" stroke="#141414" stroke-width="1.1" stroke-linejoin="round"/>
<rect x="293.3" y="268.5" width="51.7" height="28.5" fill="#fdfdfd" stroke="#141414" stroke-width="1.3"/>
<text x="319.15" y="280" class="tt">Serial</text>
<text x="319.15" y="292.3" class="tt">Dilutions</text>
<rect x="348.4" y="268" width="169.8" height="85.4" fill="#fbfbfb" stroke="#141414" stroke-width="1.4"/>
<rect x="357.5" y="276.6" width="31.8" height="12.8" fill="#c8c8c8" stroke="#141414" stroke-width="1.3"/>
<rect x="358.9" y="278" width="29" height="10" fill="none" stroke="#e6e6e6" stroke-width="0.8"/>
<rect x="357.5" y="301.6" width="31.8" height="13" fill="#8c8c8c" stroke="#141414" stroke-width="1.3"/>
<rect x="358.9" y="303" width="29" height="10.2" fill="none" stroke="#a8a8a8" stroke-width="0.8"/>
<rect x="357.5" y="327.6" width="31.8" height="12.9" fill="#333333" stroke="#141414" stroke-width="1.3"/>
<rect x="358.9" y="329" width="29" height="10.1" fill="none" stroke="#3c3c3c" stroke-width="0.8"/>
<text x="398.7" y="286.4" class="lg">D-FISH</text>
<text x="398.7" y="303.1" class="lg">Q-Cytogenetics for patients</text>
<text x="398.7" y="311.8" class="lg">and expected Ph-positive</text>
<text x="398.7" y="320.2" class="lg">nuclei for serial dilutions</text>
<text x="398.7" y="337.0" class="lg">S-FISH</text>
</g>
</svg></body></html>
